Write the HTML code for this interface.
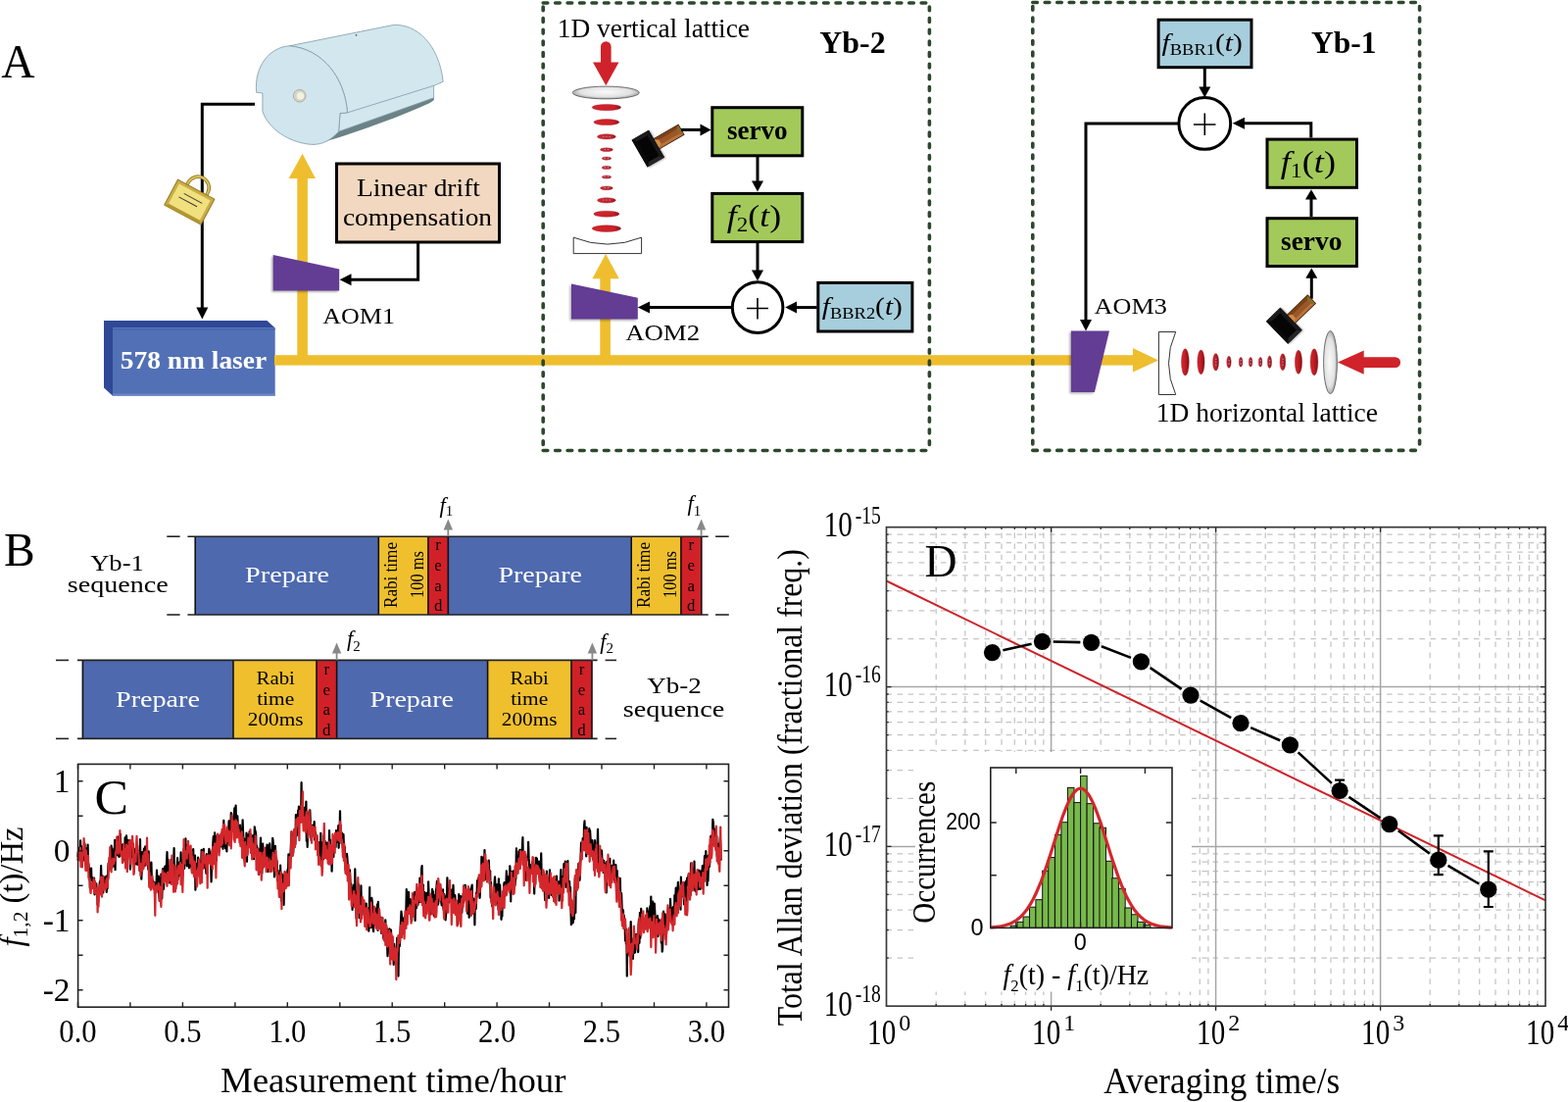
<!DOCTYPE html>
<html><head><meta charset="utf-8"><title>Figure</title>
<style>html,body{margin:0;padding:0;background:#fff;} svg{display:block;}</style></head>
<body><svg width="1600" height="1124" viewBox="0 0 1600 1124">
<defs>
<filter id="blur" x="-20%" y="-20%" width="140%" height="140%"><feGaussianBlur stdDeviation="1.0"/></filter>
<filter id="blurS" x="-30%" y="-30%" width="160%" height="160%"><feGaussianBlur stdDeviation="1"/></filter>
<radialGradient id="lensH" cx="0.5" cy="0.45" r="0.55"><stop offset="0" stop-color="#fafafa"/><stop offset="0.7" stop-color="#e2e2e2"/><stop offset="1" stop-color="#9a9a9a"/></radialGradient>
<radialGradient id="lensV" cx="0.45" cy="0.5" r="0.55"><stop offset="0" stop-color="#fafafa"/><stop offset="0.7" stop-color="#e2e2e2"/><stop offset="1" stop-color="#9a9a9a"/></radialGradient>
<linearGradient id="redE" x1="0" y1="0" x2="1" y2="0"><stop offset="0" stop-color="#d2242b"/><stop offset="0.75" stop-color="#cb2029"/><stop offset="1" stop-color="#861317"/></linearGradient>
<linearGradient id="redV" x1="0" y1="0" x2="1" y2="0"><stop offset="0" stop-color="#d62229"/><stop offset="0.45" stop-color="#c41d25"/><stop offset="1" stop-color="#7c1216"/></linearGradient>
</defs>
<rect width="1600" height="1124" fill="#fff"/>
<text x="1.3" y="79" font-family="'Liberation Serif','Times New Roman',serif" font-size="47.5" fill="#000">A</text>
<g stroke="#7f9aa3" stroke-width="0.8" stroke-linejoin="round">
<path d="M442.6,99.2 L345.6,133.8 L318,148 C350,140 395,124 432,108 C438,105.5 441,104 443,101.5 Z" fill="#6b8286" stroke="none"/>
<path d="M295.4,46.8 L401.3,25.5 C425,24 448,45 452.2,83.3 L442.6,87.4 L442.6,99.8 L345.6,134.2 L347,115.6 L354.5,114.9 C352,80 330,50 295.4,46.8 Z" fill="#d3e7ef"/>
<path d="M261.7,94.3 C259,68 275,48 295.4,46.8 C330,50 352,80 354.5,114.9 L347,115.6 L345.6,134.2 C335,146 325,148 316,147.2 C295,145 274,132 267.9,113.5 L267.9,95 Z" fill="#d0e5ee"/>
<path d="M354.5,114.9 L442.6,87.4" fill="none"/>
</g>
<circle cx="305.7" cy="97.7" r="6.3" fill="#d8d8c8" stroke="#a8a89a" stroke-width="0.9"/>
<circle cx="306.4" cy="97.9" r="4.3" fill="#f1f1e4" stroke="#c4c4b2" stroke-width="0.6"/>
<circle cx="363.5" cy="35.8" r="0.9" fill="#556"/>
<path d="M260,106.3 H206.3 V314" fill="none" stroke="#000" stroke-width="3"/>
<path d="M200.3,313.5 L212.3,313.5 L206.3,325.5 Z" fill="#000"/>
<g transform="translate(193.3,206.1) rotate(28)">
<path d="M-10.5,-13 L-10.5,-17 A11.3,11.3 0 0 1 12.1,-17 L12.1,-13" fill="none" stroke="#9c8224" stroke-width="3.6"/>
<path d="M-10.5,-13 L-10.5,-17 A11.3,11.3 0 0 1 12.1,-17 L12.1,-13" fill="none" stroke="#dcc666" stroke-width="1.6"/>
<rect x="-21.2" y="-14.7" width="42.4" height="29.4" fill="#c9ad45" stroke="#8a7320" stroke-width="0.9"/>
<rect x="-18" y="-11.5" width="36" height="23" fill="#f0e07e"/>
<path d="M-18,11.5 L18,11.5 L21.2,14.7 L-21.2,14.7 Z" fill="#b39630"/>
<line x1="-9" y1="-5" x2="12" y2="-5" stroke="#333" stroke-width="0.9"/>
<line x1="-12" y1="0.5" x2="9" y2="0.5" stroke="#333" stroke-width="0.9"/>
</g>
<path d="M106,327 L272.5,327 L280.7,334.5 L115,334.5 L115,403.7 L106,395.5 Z" fill="#2f4996"/>
<rect x="115" y="334.5" width="165.7" height="69.2" fill="#5270b5"/>
<rect x="115" y="334.5" width="165.7" height="2" fill="#4664ab"/>
<rect x="115" y="401.5" width="165.7" height="2.2" fill="#6a86c6"/>
<text x="197.5" y="375.8" font-family="'Liberation Serif','Times New Roman',serif" font-size="25.5" text-anchor="middle" font-weight="bold" textLength="149.3" lengthAdjust="spacingAndGlyphs" fill="#fff">578 nm laser</text>
<rect x="280" y="362.2" width="878" height="10.4" fill="#EEBE2E"/>
<path d="M1156,355 L1182,367.4 L1156,379.6 Z" fill="#EEBE2E"/>
<rect x="303.3" y="180" width="10.6" height="187" fill="#EEBE2E"/>
<path d="M294.7,182 L321.9,182 L308.6,156.8 Z" fill="#EEBE2E"/>
<rect x="612.3" y="282" width="10.6" height="85" fill="#EEBE2E"/>
<path d="M604.4,284.2 L631.8,284.2 L618.1,259 Z" fill="#EEBE2E"/>
<path d="M277.2,261.4 L344.7,276.1 L344.7,298 L277.2,298 Z" fill="#000" opacity="0.3" filter="url(#blur)"/>
<path d="M278.7,259.9 L346.2,274.6 L346.2,296.5 L278.7,296.5 Z" fill="#633C94"/>
<rect x="343.5" y="167" width="166" height="80" fill="#F2D8C0" stroke="#000" stroke-width="3"/>
<text x="427" y="199.9" font-family="'Liberation Serif','Times New Roman',serif" font-size="26" text-anchor="middle" textLength="125.9" lengthAdjust="spacingAndGlyphs" fill="#000">Linear drift</text>
<text x="426" y="230.3" font-family="'Liberation Serif','Times New Roman',serif" font-size="26" text-anchor="middle" textLength="152.1" lengthAdjust="spacingAndGlyphs" fill="#000">compensation</text>
<path d="M426.6,248 V285.2 H358" fill="none" stroke="#000" stroke-width="3"/>
<path d="M358.5,279.2 L358.5,291.2 L346.6,285.2 Z" fill="#000"/>
<text x="329.2" y="330" font-family="'Liberation Serif','Times New Roman',serif" font-size="23" textLength="73.7" lengthAdjust="spacingAndGlyphs" fill="#000">AOM1</text>
<path d="M554.2,3 H948.4 M554.2,459.5 H948.4" stroke="#2C482D" stroke-width="3.6" stroke-linecap="round" fill="none" stroke-dasharray="4.6 7.85"/>
<path d="M554.2,3 V459.5 M948.4,3 V459.5" stroke="#2C482D" stroke-width="3.6" stroke-linecap="round" fill="none" stroke-dasharray="3.8 7.85" stroke-dashoffset="-4"/>
<text x="568.8" y="37.8" font-family="'Liberation Serif','Times New Roman',serif" font-size="26.3" textLength="196.2" lengthAdjust="spacingAndGlyphs" fill="#000">1D vertical lattice</text>
<text x="836.3" y="53.9" font-family="'Liberation Serif','Times New Roman',serif" font-size="31" font-weight="bold" textLength="67.4" lengthAdjust="spacingAndGlyphs" fill="#000">Yb-2</text>
<path d="M613,63.5 L613,47.5 A5.3,5.3 0 0 1 623.6,47.5 L623.6,63.5 L631.5,63.5 L618.3,87.3 L605,63.5 Z" fill="#d0222a"/>
<ellipse cx="618.3" cy="94.5" rx="34" ry="6.4" fill="url(#lensH)" stroke="#555" stroke-width="0.8"/>
<ellipse cx="618.9" cy="109.6" rx="14.7" ry="3.2" fill="url(#redE)" stroke="#9a1a1e" stroke-width="0.4"/>
<ellipse cx="618.9" cy="124.6" rx="13" ry="3" fill="url(#redE)" stroke="#9a1a1e" stroke-width="0.4"/>
<ellipse cx="618.9" cy="139.4" rx="9.4" ry="2.6" fill="url(#redE)" stroke="#9a1a1e" stroke-width="0.4"/>
<circle cx="615.7" cy="139.20000000000002" r="0.75" fill="#6aa6d6"/>
<circle cx="618.9" cy="139.20000000000002" r="0.75" fill="#6aa6d6"/>
<circle cx="622.1" cy="139.20000000000002" r="0.75" fill="#6aa6d6"/>
<ellipse cx="618.9" cy="152.7" rx="6.4" ry="1.9" fill="url(#redE)" stroke="#9a1a1e" stroke-width="0.4"/>
<circle cx="617.3" cy="152.5" r="0.75" fill="#6aa6d6"/>
<circle cx="620.5" cy="152.5" r="0.75" fill="#6aa6d6"/>
<ellipse cx="618.9" cy="161.6" rx="4.7" ry="1.6" fill="url(#redE)" stroke="#9a1a1e" stroke-width="0.4"/>
<circle cx="617.3" cy="161.4" r="0.75" fill="#6aa6d6"/>
<circle cx="620.5" cy="161.4" r="0.75" fill="#6aa6d6"/>
<ellipse cx="618.9" cy="170.9" rx="4.7" ry="1.6" fill="url(#redE)" stroke="#9a1a1e" stroke-width="0.4"/>
<circle cx="617.3" cy="170.70000000000002" r="0.75" fill="#6aa6d6"/>
<circle cx="620.5" cy="170.70000000000002" r="0.75" fill="#6aa6d6"/>
<ellipse cx="618.9" cy="180.5" rx="4.7" ry="1.6" fill="url(#redE)" stroke="#9a1a1e" stroke-width="0.4"/>
<circle cx="617.3" cy="180.3" r="0.75" fill="#6aa6d6"/>
<circle cx="620.5" cy="180.3" r="0.75" fill="#6aa6d6"/>
<ellipse cx="618.9" cy="191.8" rx="6.4" ry="1.9" fill="url(#redE)" stroke="#9a1a1e" stroke-width="0.4"/>
<circle cx="617.3" cy="191.60000000000002" r="0.75" fill="#6aa6d6"/>
<circle cx="620.5" cy="191.60000000000002" r="0.75" fill="#6aa6d6"/>
<ellipse cx="618.9" cy="204.3" rx="9.4" ry="2.6" fill="url(#redE)" stroke="#9a1a1e" stroke-width="0.4"/>
<circle cx="615.7" cy="204.10000000000002" r="0.75" fill="#6aa6d6"/>
<circle cx="618.9" cy="204.10000000000002" r="0.75" fill="#6aa6d6"/>
<circle cx="622.1" cy="204.10000000000002" r="0.75" fill="#6aa6d6"/>
<ellipse cx="618.9" cy="218.2" rx="13" ry="3" fill="url(#redE)" stroke="#9a1a1e" stroke-width="0.4"/>
<ellipse cx="618.9" cy="233.1" rx="14.7" ry="3.3" fill="url(#redE)" stroke="#9a1a1e" stroke-width="0.4"/>
<path d="M585.2,242.2 Q619.9,256 654.6,242.2 L654.6,258.6 L585.2,258.6 Z" fill="#fff" stroke="#333" stroke-width="1"/>
<path d="M581.5,290.9 L649.3,305.2 L649.3,327 L581.5,327 Z" fill="#000" opacity="0.3" filter="url(#blur)"/>
<path d="M583,289.4 L650.8,303.7 L650.8,325.5 L583,325.5 Z" fill="#633C94"/>
<text x="638.2" y="346.8" font-family="'Liberation Serif','Times New Roman',serif" font-size="23" textLength="75.9" lengthAdjust="spacingAndGlyphs" fill="#000">AOM2</text>
<g transform="translate(661.3,151.7) rotate(-30)">
<rect x="-9" y="-15" width="20" height="32" fill="#000" opacity="0.35" filter="url(#blurS)"/>
<rect x="8" y="-6.3" width="31.5" height="12.6" fill="#3a1e08"/>
<rect x="9" y="-5.4" width="29.6" height="10.8" fill="#9b5727"/>
<path d="M9,-5.4 L38.6,-5.4 L35,-2.4 L14,-2.4 Z" fill="#7c4218"/>
<path d="M9,-5.4 L14,-2.4 L14,2.6 L9,5.4 Z" fill="#d48a42"/>
<path d="M9,5.4 L14,2.6 L35,2.6 L38.6,5.4 Z" fill="#b8733a"/>
<path d="M38.6,-5.4 L35,-2.4 L35,2.6 L38.6,5.4 Z" fill="#8a6a2a"/>
<rect x="-10" y="-16" width="20" height="32" fill="#050505"/>
<path d="M-10,-16 L10,-16 L6,-12 L-6,-12 Z" fill="#1c1c1c"/>
<path d="M-10,16 L10,16 L6,12 L-6,12 Z" fill="#262626"/>
<path d="M10,-16 L10,16 L6,12 L6,-12 Z" fill="#181818"/>
<path d="M-10,-16 L-10,16 L-6,12 L-6,-12 Z" fill="#0a0a0a"/>
</g>
<path d="M695,132.4 H716" fill="none" stroke="#000" stroke-width="3"/>
<path d="M714.5,126.4 L714.5,138.4 L725.6,132.4 Z" fill="#000"/>
<rect x="726.8" y="109.7" width="92" height="49.1" fill="#A3C95B" stroke="#000" stroke-width="3"/>
<text x="772.8" y="142.2" font-family="'Liberation Serif','Times New Roman',serif" font-size="27" text-anchor="middle" font-weight="bold" textLength="61.7" lengthAdjust="spacingAndGlyphs" fill="#000">servo</text>
<rect x="726.8" y="197.4" width="92" height="49.2" fill="#A3C95B" stroke="#000" stroke-width="3"/>
<text x="741.8" y="231.2" font-family="'Liberation Serif','Times New Roman',serif" font-size="31" fill="#000" textLength="55.3" lengthAdjust="spacingAndGlyphs"><tspan font-style="italic">f</tspan><tspan font-size="20" dy="4.5">2</tspan><tspan dy="-4.5">(</tspan><tspan font-style="italic">t</tspan><tspan>)</tspan></text>
<path d="M773,160 V185" stroke="#000" stroke-width="3"/>
<path d="M767,184.6 L779,184.6 L773,195.6 Z" fill="#000"/>
<path d="M773,248 V276" stroke="#000" stroke-width="3"/>
<path d="M767,275.6 L779,275.6 L773,286.6 Z" fill="#000"/>
<circle cx="773.1" cy="313.6" r="25.8" fill="#fff" stroke="#000" stroke-width="3"/>
<path d="M762,314.5 H784 M773,304 V325.5" stroke="#000" stroke-width="1.6"/>
<path d="M747.3,313.4 H662" stroke="#000" stroke-width="3"/>
<path d="M663,307.4 L663,319.4 L650.8,313.4 Z" fill="#000"/>
<rect x="834.8" y="288.4" width="96.1" height="49.6" fill="#A7CEDC" stroke="#000" stroke-width="3"/>
<text x="838.8" y="320.7" font-family="'Liberation Serif','Times New Roman',serif" font-size="25.5" fill="#000" textLength="82.1" lengthAdjust="spacingAndGlyphs"><tspan font-style="italic">f</tspan><tspan font-size="16" dy="4.2">BBR2</tspan><tspan dy="-4.2">(</tspan><tspan font-style="italic">t</tspan><tspan>)</tspan></text>
<path d="M833.6,313.6 H812" stroke="#000" stroke-width="3"/>
<path d="M813,307.6 L813,319.6 L801.2,313.6 Z" fill="#000"/>
<path d="M1053.8,2.5 H1448.6 M1053.8,459.4 H1448.6" stroke="#2C482D" stroke-width="3.6" stroke-linecap="round" fill="none" stroke-dasharray="4.6 7.85"/>
<path d="M1053.8,2.5 V459.4 M1448.6,2.5 V459.4" stroke="#2C482D" stroke-width="3.6" stroke-linecap="round" fill="none" stroke-dasharray="3.8 7.85" stroke-dashoffset="-4"/>
<rect x="1182.1" y="20.2" width="94.9" height="48.5" fill="#A7CEDC" stroke="#000" stroke-width="3"/>
<text x="1185.5" y="51.6" font-family="'Liberation Serif','Times New Roman',serif" font-size="25.5" fill="#000" textLength="82.4" lengthAdjust="spacingAndGlyphs"><tspan font-style="italic">f</tspan><tspan font-size="16" dy="4.1">BBR1</tspan><tspan dy="-4.1">(</tspan><tspan font-style="italic">t</tspan><tspan>)</tspan></text>
<text x="1338.1" y="53.7" font-family="'Liberation Serif','Times New Roman',serif" font-size="31" font-weight="bold" textLength="66.5" lengthAdjust="spacingAndGlyphs" fill="#000">Yb-1</text>
<path d="M1229.3,70 V89" stroke="#000" stroke-width="3"/>
<path d="M1223.3,88.5 L1235.3,88.5 L1229.3,99.5 Z" fill="#000"/>
<circle cx="1229.3" cy="125.9" r="26.4" fill="#fff" stroke="#000" stroke-width="3"/>
<path d="M1218,127 H1240.5 M1229.3,115.5 V138" stroke="#000" stroke-width="1.6"/>
<path d="M1202.9,125.9 H1108 V326" fill="none" stroke="#000" stroke-width="3"/>
<path d="M1102,326 L1114,326 L1108,337.4 Z" fill="#000"/>
<path d="M1337.8,140.6 V125.8 H1269" fill="none" stroke="#000" stroke-width="3"/>
<path d="M1270,119.8 L1270,131.8 L1257.7,125.8 Z" fill="#000"/>
<rect x="1293" y="142.1" width="91.5" height="49.2" fill="#A3C95B" stroke="#000" stroke-width="3"/>
<text x="1306.8" y="176.1" font-family="'Liberation Serif','Times New Roman',serif" font-size="31" fill="#000" textLength="56.2" lengthAdjust="spacingAndGlyphs"><tspan font-style="italic">f</tspan><tspan font-size="20.5" dy="4.8">1</tspan><tspan dy="-4.8">(</tspan><tspan font-style="italic">t</tspan><tspan>)</tspan></text>
<rect x="1293" y="222.7" width="91.5" height="48.8" fill="#A3C95B" stroke="#000" stroke-width="3"/>
<text x="1338.2" y="254.8" font-family="'Liberation Serif','Times New Roman',serif" font-size="27" text-anchor="middle" font-weight="bold" textLength="62.3" lengthAdjust="spacingAndGlyphs" fill="#000">servo</text>
<path d="M1338,221 V203" stroke="#000" stroke-width="3"/>
<path d="M1332,203.6 L1344,203.6 L1338,193.2 Z" fill="#000"/>
<path d="M1338.3,304.7 V283" stroke="#000" stroke-width="3"/>
<path d="M1332.3,283.8 L1344.3,283.8 L1338.3,273.4 Z" fill="#000"/>
<g transform="translate(1310.3,332.3) rotate(-44)">
<rect x="-9" y="-15" width="20" height="32" fill="#000" opacity="0.35" filter="url(#blurS)"/>
<rect x="8" y="-6.3" width="31.5" height="12.6" fill="#3a1e08"/>
<rect x="9" y="-5.4" width="29.6" height="10.8" fill="#9b5727"/>
<path d="M9,-5.4 L38.6,-5.4 L35,-2.4 L14,-2.4 Z" fill="#7c4218"/>
<path d="M9,-5.4 L14,-2.4 L14,2.6 L9,5.4 Z" fill="#d48a42"/>
<path d="M9,5.4 L14,2.6 L35,2.6 L38.6,5.4 Z" fill="#b8733a"/>
<path d="M38.6,-5.4 L35,-2.4 L35,2.6 L38.6,5.4 Z" fill="#8a6a2a"/>
<rect x="-10" y="-16" width="20" height="32" fill="#050505"/>
<path d="M-10,-16 L10,-16 L6,-12 L-6,-12 Z" fill="#1c1c1c"/>
<path d="M-10,16 L10,16 L6,12 L-6,12 Z" fill="#262626"/>
<path d="M10,-16 L10,16 L6,12 L6,-12 Z" fill="#181818"/>
<path d="M-10,-16 L-10,16 L-6,12 L-6,-12 Z" fill="#0a0a0a"/>
</g>
<path d="M1091.4,339.1 L1130.5,339.1 L1115.4,401.4 L1091.4,401.4 Z" fill="#000" opacity="0.3" filter="url(#blur)"/>
<path d="M1092.9,337.6 L1132,337.6 L1116.9,399.9 L1092.9,399.9 Z" fill="#633C94"/>
<text x="1116.6" y="319.5" font-family="'Liberation Serif','Times New Roman',serif" font-size="24" textLength="74.2" lengthAdjust="spacingAndGlyphs" fill="#000">AOM3</text>
<path d="M1182.4,338.5 L1199.7,338.5 Q1185.3,370.5 1199.7,402.5 L1182.4,402.5 Z" fill="#fff" stroke="#333" stroke-width="1"/>
<ellipse cx="1209.4" cy="369.3" rx="3.9" ry="13.6" fill="url(#redV)" stroke="#9a1a1e" stroke-width="0.4"/>
<ellipse cx="1225.5" cy="369.3" rx="3.6" ry="12.4" fill="url(#redV)" stroke="#9a1a1e" stroke-width="0.4"/>
<ellipse cx="1240.6" cy="369.3" rx="3.0" ry="8.75" fill="url(#redV)" stroke="#9a1a1e" stroke-width="0.4"/>
<circle cx="1240.8" cy="366.3" r="0.75" fill="#6aa6d6"/>
<circle cx="1240.8" cy="369.3" r="0.75" fill="#6aa6d6"/>
<circle cx="1240.8" cy="372.3" r="0.75" fill="#6aa6d6"/>
<ellipse cx="1254" cy="369.3" rx="2.2" ry="6.1" fill="url(#redV)" stroke="#9a1a1e" stroke-width="0.4"/>
<circle cx="1254.2" cy="367.7" r="0.75" fill="#6aa6d6"/>
<circle cx="1254.2" cy="370.9" r="0.75" fill="#6aa6d6"/>
<ellipse cx="1266.1" cy="369.3" rx="1.8" ry="4.9" fill="url(#redV)" stroke="#9a1a1e" stroke-width="0.4"/>
<circle cx="1266.3" cy="367.7" r="0.75" fill="#6aa6d6"/>
<circle cx="1266.3" cy="370.9" r="0.75" fill="#6aa6d6"/>
<ellipse cx="1276.1" cy="369.3" rx="1.8" ry="4.8" fill="url(#redV)" stroke="#9a1a1e" stroke-width="0.4"/>
<circle cx="1276.3" cy="367.7" r="0.75" fill="#6aa6d6"/>
<circle cx="1276.3" cy="370.9" r="0.75" fill="#6aa6d6"/>
<ellipse cx="1286.1" cy="369.3" rx="1.8" ry="4.9" fill="url(#redV)" stroke="#9a1a1e" stroke-width="0.4"/>
<circle cx="1286.3" cy="367.7" r="0.75" fill="#6aa6d6"/>
<circle cx="1286.3" cy="370.9" r="0.75" fill="#6aa6d6"/>
<ellipse cx="1295.5" cy="369.3" rx="2.1" ry="6.2" fill="url(#redV)" stroke="#9a1a1e" stroke-width="0.4"/>
<circle cx="1295.7" cy="367.7" r="0.75" fill="#6aa6d6"/>
<circle cx="1295.7" cy="370.9" r="0.75" fill="#6aa6d6"/>
<ellipse cx="1308.9" cy="369.3" rx="2.9" ry="8.5" fill="url(#redV)" stroke="#9a1a1e" stroke-width="0.4"/>
<circle cx="1309.1000000000001" cy="366.3" r="0.75" fill="#6aa6d6"/>
<circle cx="1309.1000000000001" cy="369.3" r="0.75" fill="#6aa6d6"/>
<circle cx="1309.1000000000001" cy="372.3" r="0.75" fill="#6aa6d6"/>
<ellipse cx="1325" cy="369.3" rx="3.6" ry="12.1" fill="url(#redV)" stroke="#9a1a1e" stroke-width="0.4"/>
<ellipse cx="1341" cy="369.3" rx="3.9" ry="13.5" fill="url(#redV)" stroke="#9a1a1e" stroke-width="0.4"/>
<ellipse cx="1357.5" cy="369.6" rx="6.9" ry="32" fill="url(#lensV)" stroke="#555" stroke-width="0.8"/>
<path d="M1365,369.6 L1391.7,357.5 L1391.7,364.3 L1423.7,364.3 A5.35,5.35 0 0 1 1423.7,375 L1391.7,375 L1391.7,381.7 Z" fill="#d0222a"/>
<text x="1179.8" y="430.3" font-family="'Liberation Serif','Times New Roman',serif" font-size="26.3" textLength="226.2" lengthAdjust="spacingAndGlyphs" fill="#000">1D horizontal lattice</text>
<text x="4" y="576.9" font-family="'Liberation Serif','Times New Roman',serif" font-size="47.5" fill="#000">B</text>
<text x="119.5" y="581.6" font-family="'Liberation Serif','Times New Roman',serif" font-size="24" text-anchor="middle" textLength="54.7" lengthAdjust="spacingAndGlyphs" fill="#000">Yb-1</text>
<text x="120.3" y="604.4" font-family="'Liberation Serif','Times New Roman',serif" font-size="24" text-anchor="middle" textLength="103.1" lengthAdjust="spacingAndGlyphs" fill="#000">sequence</text>
<rect x="199.2" y="547.2" width="187.10000000000002" height="79.79999999999995" fill="#4E69AE"/>
<rect x="386.3" y="547.2" width="50.599999999999966" height="79.79999999999995" fill="#EFBF2E"/>
<rect x="436.9" y="547.2" width="20.400000000000034" height="79.79999999999995" fill="#D12128"/>
<rect x="457.3" y="547.2" width="186.90000000000003" height="79.79999999999995" fill="#4E69AE"/>
<rect x="644.2" y="547.2" width="50.69999999999993" height="79.79999999999995" fill="#EFBF2E"/>
<rect x="694.9" y="547.2" width="20.899999999999977" height="79.79999999999995" fill="#D12128"/>
<line x1="199.2" y1="547.2" x2="199.2" y2="627.0" stroke="#111" stroke-width="1.6"/>
<line x1="386.3" y1="547.2" x2="386.3" y2="627.0" stroke="#111" stroke-width="1.6"/>
<line x1="436.9" y1="547.2" x2="436.9" y2="627.0" stroke="#111" stroke-width="1.6"/>
<line x1="457.3" y1="547.2" x2="457.3" y2="627.0" stroke="#111" stroke-width="1.6"/>
<line x1="644.2" y1="547.2" x2="644.2" y2="627.0" stroke="#111" stroke-width="1.6"/>
<line x1="694.9" y1="547.2" x2="694.9" y2="627.0" stroke="#111" stroke-width="1.6"/>
<line x1="715.8" y1="547.2" x2="715.8" y2="627.0" stroke="#111" stroke-width="1.6"/>
<line x1="170.3" y1="547.2" x2="183.6" y2="547.2" stroke="#222" stroke-width="1.6"/>
<line x1="191.4" y1="547.2" x2="722.7" y2="547.2" stroke="#222" stroke-width="1.6"/>
<line x1="730.1" y1="547.2" x2="743.8" y2="547.2" stroke="#222" stroke-width="1.6"/>
<line x1="170.3" y1="627.0" x2="183.6" y2="627.0" stroke="#222" stroke-width="1.6"/>
<line x1="191.4" y1="627.0" x2="722.7" y2="627.0" stroke="#222" stroke-width="1.6"/>
<line x1="730.1" y1="627.0" x2="743.8" y2="627.0" stroke="#222" stroke-width="1.6"/>
<text x="293.1" y="594.0" font-family="'Liberation Serif','Times New Roman',serif" font-size="23" text-anchor="middle" textLength="86" lengthAdjust="spacingAndGlyphs" fill="#fff">Prepare</text>
<text x="551.2" y="594.2" font-family="'Liberation Serif','Times New Roman',serif" font-size="23" text-anchor="middle" textLength="85.5" lengthAdjust="spacingAndGlyphs" fill="#fff">Prepare</text>
<text transform="translate(405.3,586.5) rotate(-90)" font-family="'Liberation Serif','Times New Roman',serif" font-size="19" text-anchor="middle" textLength="67" lengthAdjust="spacingAndGlyphs">Rabi time</text>
<text transform="translate(431.6,586) rotate(-90)" font-family="'Liberation Serif','Times New Roman',serif" font-size="19" text-anchor="middle" textLength="48" lengthAdjust="spacingAndGlyphs">100 ms</text>
<text transform="translate(663.2,586.5) rotate(-90)" font-family="'Liberation Serif','Times New Roman',serif" font-size="19" text-anchor="middle" textLength="67" lengthAdjust="spacingAndGlyphs">Rabi time</text>
<text transform="translate(689.5,586) rotate(-90)" font-family="'Liberation Serif','Times New Roman',serif" font-size="19" text-anchor="middle" textLength="48" lengthAdjust="spacingAndGlyphs">100 ms</text>
<text x="447.1" y="560.8" font-family="'Liberation Serif','Times New Roman',serif" font-size="16.8" text-anchor="middle" fill="#000">r</text>
<text x="447.1" y="581.7" font-family="'Liberation Serif','Times New Roman',serif" font-size="16.8" text-anchor="middle" fill="#000">e</text>
<text x="447.1" y="602.8" font-family="'Liberation Serif','Times New Roman',serif" font-size="16.8" text-anchor="middle" fill="#000">a</text>
<text x="447.1" y="622.7" font-family="'Liberation Serif','Times New Roman',serif" font-size="16.8" text-anchor="middle" fill="#000">d</text>
<text x="705.3" y="560.8" font-family="'Liberation Serif','Times New Roman',serif" font-size="16.8" text-anchor="middle" fill="#000">r</text>
<text x="705.3" y="581.7" font-family="'Liberation Serif','Times New Roman',serif" font-size="16.8" text-anchor="middle" fill="#000">e</text>
<text x="705.3" y="602.8" font-family="'Liberation Serif','Times New Roman',serif" font-size="16.8" text-anchor="middle" fill="#000">a</text>
<text x="705.3" y="622.7" font-family="'Liberation Serif','Times New Roman',serif" font-size="16.8" text-anchor="middle" fill="#000">d</text>
<line x1="457.3" y1="547" x2="457.3" y2="537.4" stroke="#888" stroke-width="1.8"/>
<path d="M452.6,540.4 L462.0,540.4 L457.3,529.4 Z" fill="#888"/>
<line x1="715.6" y1="547" x2="715.6" y2="537.4" stroke="#888" stroke-width="1.8"/>
<path d="M710.9,540.4 L720.3000000000001,540.4 L715.6,529.4 Z" fill="#888"/>
<text x="448.4" y="522.5" font-family="'Liberation Serif','Times New Roman',serif" font-size="22.4" fill="#000"><tspan font-style="italic">f</tspan><tspan font-size="15" dy="3.1">1</tspan></text>
<text x="701.5" y="521.4" font-family="'Liberation Serif','Times New Roman',serif" font-size="22.4" fill="#000"><tspan font-style="italic">f</tspan><tspan font-size="15" dy="4.1">1</tspan></text>
<rect x="84.4" y="673.4" width="153.6" height="80.0" fill="#4E69AE"/>
<rect x="238" y="673.4" width="85" height="80.0" fill="#EFBF2E"/>
<rect x="323" y="673.4" width="20.600000000000023" height="80.0" fill="#D12128"/>
<rect x="343.6" y="673.4" width="154.0" height="80.0" fill="#4E69AE"/>
<rect x="497.6" y="673.4" width="85.39999999999998" height="80.0" fill="#EFBF2E"/>
<rect x="583" y="673.4" width="21" height="80.0" fill="#D12128"/>
<line x1="84.4" y1="673.4" x2="84.4" y2="753.4" stroke="#111" stroke-width="1.6"/>
<line x1="238" y1="673.4" x2="238" y2="753.4" stroke="#111" stroke-width="1.6"/>
<line x1="323" y1="673.4" x2="323" y2="753.4" stroke="#111" stroke-width="1.6"/>
<line x1="343.6" y1="673.4" x2="343.6" y2="753.4" stroke="#111" stroke-width="1.6"/>
<line x1="497.6" y1="673.4" x2="497.6" y2="753.4" stroke="#111" stroke-width="1.6"/>
<line x1="583" y1="673.4" x2="583" y2="753.4" stroke="#111" stroke-width="1.6"/>
<line x1="604" y1="673.4" x2="604" y2="753.4" stroke="#111" stroke-width="1.6"/>
<line x1="57" y1="673.4" x2="70" y2="673.4" stroke="#222" stroke-width="1.6"/>
<line x1="79" y1="673.4" x2="609.6" y2="673.4" stroke="#222" stroke-width="1.6"/>
<line x1="617.6" y1="673.4" x2="629" y2="673.4" stroke="#222" stroke-width="1.6"/>
<line x1="57" y1="753.4" x2="70" y2="753.4" stroke="#222" stroke-width="1.6"/>
<line x1="79" y1="753.4" x2="609.6" y2="753.4" stroke="#222" stroke-width="1.6"/>
<line x1="617.6" y1="753.4" x2="629" y2="753.4" stroke="#222" stroke-width="1.6"/>
<text x="161" y="720.6" font-family="'Liberation Serif','Times New Roman',serif" font-size="23" text-anchor="middle" textLength="86" lengthAdjust="spacingAndGlyphs" fill="#fff">Prepare</text>
<text x="420.3" y="721" font-family="'Liberation Serif','Times New Roman',serif" font-size="23" text-anchor="middle" textLength="85.4" lengthAdjust="spacingAndGlyphs" fill="#fff">Prepare</text>
<text x="281.2" y="698" font-family="'Liberation Serif','Times New Roman',serif" font-size="18" text-anchor="middle" textLength="39.4" lengthAdjust="spacingAndGlyphs" fill="#000">Rabi</text>
<text x="281.2" y="718.8" font-family="'Liberation Serif','Times New Roman',serif" font-size="18" text-anchor="middle" textLength="38" lengthAdjust="spacingAndGlyphs" fill="#000">time</text>
<text x="281.2" y="739.8" font-family="'Liberation Serif','Times New Roman',serif" font-size="18" text-anchor="middle" textLength="56.7" lengthAdjust="spacingAndGlyphs" fill="#000">200ms</text>
<text x="540.2" y="698" font-family="'Liberation Serif','Times New Roman',serif" font-size="18" text-anchor="middle" textLength="39.4" lengthAdjust="spacingAndGlyphs" fill="#000">Rabi</text>
<text x="540.2" y="718.8" font-family="'Liberation Serif','Times New Roman',serif" font-size="18" text-anchor="middle" textLength="38" lengthAdjust="spacingAndGlyphs" fill="#000">time</text>
<text x="540.2" y="739.8" font-family="'Liberation Serif','Times New Roman',serif" font-size="18" text-anchor="middle" textLength="56.7" lengthAdjust="spacingAndGlyphs" fill="#000">200ms</text>
<text x="333.2" y="687.5" font-family="'Liberation Serif','Times New Roman',serif" font-size="16.8" text-anchor="middle" fill="#000">r</text>
<text x="333.2" y="708.6" font-family="'Liberation Serif','Times New Roman',serif" font-size="16.8" text-anchor="middle" fill="#000">e</text>
<text x="333.2" y="729.3" font-family="'Liberation Serif','Times New Roman',serif" font-size="16.8" text-anchor="middle" fill="#000">a</text>
<text x="333.2" y="750" font-family="'Liberation Serif','Times New Roman',serif" font-size="16.8" text-anchor="middle" fill="#000">d</text>
<text x="593.5" y="687.5" font-family="'Liberation Serif','Times New Roman',serif" font-size="16.8" text-anchor="middle" fill="#000">r</text>
<text x="593.5" y="708.6" font-family="'Liberation Serif','Times New Roman',serif" font-size="16.8" text-anchor="middle" fill="#000">e</text>
<text x="593.5" y="729.3" font-family="'Liberation Serif','Times New Roman',serif" font-size="16.8" text-anchor="middle" fill="#000">a</text>
<text x="593.5" y="750" font-family="'Liberation Serif','Times New Roman',serif" font-size="16.8" text-anchor="middle" fill="#000">d</text>
<line x1="343.6" y1="673.4" x2="343.6" y2="663.6" stroke="#888" stroke-width="1.8"/>
<path d="M338.90000000000003,666.6 L348.3,666.6 L343.6,655.6 Z" fill="#888"/>
<line x1="604.4" y1="673.4" x2="604.4" y2="663.6" stroke="#888" stroke-width="1.8"/>
<path d="M599.6999999999999,666.6 L609.1,666.6 L604.4,655.6 Z" fill="#888"/>
<text x="354" y="658.8" font-family="'Liberation Serif','Times New Roman',serif" font-size="22.4" fill="#000"><tspan font-style="italic">f</tspan><tspan font-size="15" dy="5.2">2</tspan></text>
<text x="612.3" y="662.2" font-family="'Liberation Serif','Times New Roman',serif" font-size="22.4" fill="#000"><tspan font-style="italic">f</tspan><tspan font-size="15" dy="3.4">2</tspan></text>
<text x="688" y="707.4" font-family="'Liberation Serif','Times New Roman',serif" font-size="24" text-anchor="middle" textLength="55.5" lengthAdjust="spacingAndGlyphs" fill="#000">Yb-2</text>
<text x="687.5" y="731" font-family="'Liberation Serif','Times New Roman',serif" font-size="24" text-anchor="middle" textLength="103.5" lengthAdjust="spacingAndGlyphs" fill="#000">sequence</text>
<polyline points="79.5,874.2 79.9,868.8 80.4,866.0 80.8,864.9 81.3,871.9 81.7,873.1 82.1,857.4 82.6,871.2 83.0,863.1 83.4,874.4 83.9,873.6 84.3,874.3 84.8,875.4 85.2,870.6 85.6,877.4 86.1,875.9 86.5,860.7 86.9,872.8 87.4,864.8 87.8,870.2 88.3,869.9 88.7,887.0 89.1,880.6 89.6,861.5 90.0,880.2 90.4,881.4 90.9,888.1 91.3,886.0 91.8,906.0 92.2,903.5 92.6,889.1 93.1,885.5 93.5,897.7 93.9,895.6 94.4,895.2 94.8,895.8 95.3,903.4 95.7,904.3 96.1,895.7 96.6,912.5 97.0,907.4 97.4,904.8 97.9,905.9 98.3,901.3 98.8,909.0 99.2,909.7 99.6,922.7 100.1,920.3 100.5,906.8 100.9,907.8 101.4,908.9 101.8,899.6 102.3,898.5 102.7,897.7 103.1,883.1 103.6,903.3 104.0,895.7 104.5,893.3 104.9,904.1 105.3,910.4 105.8,895.7 106.2,894.6 106.6,897.5 107.1,897.3 107.5,895.7 108.0,905.5 108.4,893.6 108.8,909.9 109.3,894.4 109.7,905.9 110.1,892.8 110.6,880.5 111.0,887.7 111.5,887.7 111.9,875.4 112.3,875.9 112.8,883.2 113.2,880.1 113.6,862.7 114.1,868.4 114.5,873.1 115.0,882.4 115.4,872.0 115.8,883.6 116.3,865.3 116.7,881.9 117.1,856.8 117.6,887.2 118.0,862.6 118.5,857.4 118.9,872.2 119.3,867.6 119.8,854.5 120.2,853.5 120.6,872.7 121.1,865.6 121.5,874.0 122.0,873.0 122.4,870.6 122.8,850.7 123.3,865.6 123.7,868.6 124.1,869.2 124.6,861.7 125.0,861.7 125.5,879.1 125.9,861.3 126.3,876.4 126.8,872.4 127.2,870.2 127.6,854.3 128.1,869.0 128.5,859.6 129.0,852.3 129.4,859.9 129.8,861.4 130.3,857.6 130.7,857.2 131.2,859.3 131.6,859.9 132.0,866.4 132.5,856.9 132.9,886.7 133.3,881.8 133.8,860.6 134.2,863.9 134.7,874.1 135.1,864.4 135.5,860.0 136.0,872.8 136.4,870.1 136.8,880.3 137.3,877.1 137.7,877.9 138.2,865.5 138.6,881.3 139.0,872.9 139.5,862.3 139.9,875.4 140.3,881.9 140.8,867.9 141.2,873.8 141.7,877.1 142.1,878.1 142.5,888.2 143.0,856.1 143.4,884.2 143.8,883.2 144.3,896.7 144.7,887.9 145.2,869.1 145.6,876.0 146.0,870.7 146.5,881.8 146.9,865.7 147.3,871.3 147.8,883.1 148.2,863.3 148.7,867.1 149.1,865.3 149.5,869.4 150.0,869.2 150.4,870.4 150.8,879.5 151.3,886.6 151.7,868.4 152.2,882.9 152.6,882.0 153.0,891.6 153.5,905.8 153.9,903.5 154.4,879.6 154.8,894.5 155.2,893.6 155.7,903.5 156.1,898.3 156.5,899.6 157.0,900.2 157.4,901.8 157.9,906.3 158.3,906.8 158.7,900.1 159.2,900.8 159.6,900.9 160.0,887.5 160.5,900.3 160.9,901.4 161.4,909.0 161.8,893.5 162.2,910.1 162.7,918.8 163.1,915.0 163.5,895.4 164.0,907.9 164.4,891.6 164.9,899.4 165.3,916.4 165.7,899.7 166.2,886.0 166.6,903.5 167.0,906.8 167.5,896.1 167.9,885.8 168.4,883.6 168.8,893.4 169.2,889.6 169.7,885.5 170.1,878.4 170.5,869.1 171.0,888.0 171.4,876.5 171.9,892.7 172.3,883.7 172.7,897.6 173.2,900.5 173.6,888.7 174.0,893.2 174.5,876.9 174.9,890.1 175.4,884.2 175.8,887.2 176.2,890.0 176.7,886.1 177.1,884.8 177.6,865.0 178.0,901.2 178.4,892.6 178.9,898.1 179.3,906.7 179.7,897.1 180.2,900.3 180.6,887.4 181.1,875.1 181.5,897.3 181.9,881.7 182.4,883.8 182.8,893.3 183.2,879.5 183.7,880.3 184.1,884.3 184.6,869.4 185.0,891.6 185.4,880.8 185.9,885.6 186.3,892.2 186.7,885.1 187.2,881.4 187.6,865.9 188.1,885.9 188.5,874.7 188.9,873.4 189.4,855.4 189.8,874.8 190.2,862.0 190.7,883.3 191.1,863.7 191.6,866.5 192.0,867.0 192.4,875.8 192.9,885.3 193.3,884.3 193.7,864.1 194.2,867.8 194.6,883.5 195.1,869.3 195.5,883.1 195.9,888.9 196.4,889.6 196.8,870.0 197.2,866.1 197.7,888.2 198.1,882.0 198.6,881.5 199.0,872.6 199.4,907.7 199.9,887.7 200.3,881.3 200.8,897.9 201.2,881.9 201.6,882.7 202.1,874.5 202.5,884.9 202.9,877.0 203.4,883.5 203.8,877.9 204.3,882.5 204.7,882.0 205.1,890.4 205.6,866.9 206.0,867.9 206.4,871.6 206.9,883.7 207.3,884.3 207.8,865.9 208.2,876.3 208.6,885.0 209.1,880.1 209.5,882.8 209.9,884.6 210.4,890.8 210.8,871.2 211.3,877.3 211.7,881.3 212.1,881.4 212.6,879.3 213.0,872.7 213.4,865.9 213.9,874.7 214.3,868.6 214.8,877.7 215.2,882.6 215.6,899.5 216.1,881.7 216.5,885.3 216.9,873.2 217.4,858.9 217.8,853.1 218.3,867.2 218.7,877.7 219.1,849.3 219.6,860.6 220.0,866.6 220.4,869.6 220.9,877.7 221.3,853.7 221.8,851.8 222.2,851.6 222.6,854.7 223.1,858.9 223.5,852.8 223.9,865.2 224.4,861.2 224.8,855.7 225.3,863.5 225.7,855.7 226.1,857.3 226.6,848.5 227.0,850.0 227.5,865.8 227.9,853.2 228.3,836.8 228.8,863.2 229.2,857.8 229.6,853.5 230.1,865.5 230.5,861.4 231.0,863.1 231.4,868.4 231.8,852.7 232.3,850.0 232.7,859.6 233.1,848.5 233.6,837.4 234.0,854.2 234.5,848.9 234.9,843.3 235.3,844.3 235.8,829.1 236.2,829.6 236.6,846.3 237.1,841.6 237.5,834.5 238.0,833.6 238.4,842.0 238.8,834.0 239.3,824.4 239.7,837.2 240.1,827.4 240.6,821.6 241.0,837.8 241.5,833.0 241.9,842.4 242.3,832.3 242.8,842.6 243.2,846.6 243.6,843.2 244.1,847.0 244.5,846.7 245.0,841.6 245.4,857.8 245.8,854.0 246.3,846.6 246.7,849.0 247.1,856.3 247.6,836.4 248.0,847.6 248.5,858.5 248.9,858.6 249.3,855.6 249.8,862.7 250.2,875.7 250.7,869.5 251.1,866.1 251.5,849.5 252.0,878.8 252.4,854.6 252.8,864.5 253.3,851.5 253.7,860.5 254.2,856.9 254.6,848.2 255.0,859.2 255.5,850.4 255.9,860.2 256.3,866.9 256.8,866.0 257.2,869.1 257.7,864.0 258.1,852.1 258.5,874.1 259.0,876.1 259.4,861.1 259.8,843.3 260.3,847.4 260.7,847.9 261.2,851.3 261.6,869.9 262.0,862.6 262.5,886.3 262.9,877.1 263.3,865.7 263.8,887.1 264.2,891.9 264.7,889.4 265.1,879.0 265.5,868.0 266.0,854.5 266.4,867.1 266.8,888.9 267.3,890.9 267.7,876.0 268.2,860.5 268.6,884.7 269.0,879.3 269.5,878.4 269.9,878.3 270.3,874.7 270.8,867.5 271.2,864.9 271.7,873.3 272.1,872.6 272.5,861.5 273.0,881.7 273.4,889.2 273.9,876.4 274.3,862.2 274.7,870.9 275.2,860.3 275.6,873.5 276.0,866.9 276.5,877.4 276.9,868.9 277.4,871.1 277.8,867.7 278.2,854.9 278.7,858.7 279.1,876.1 279.5,865.7 280.0,894.4 280.4,875.2 280.9,862.8 281.3,873.2 281.7,875.2 282.2,881.2 282.6,878.1 283.0,897.9 283.5,887.8 283.9,891.1 284.4,897.4 284.8,892.6 285.2,893.5 285.7,914.6 286.1,882.5 286.5,893.4 287.0,918.9 287.4,891.2 287.9,895.5 288.3,898.7 288.7,892.8 289.2,901.4 289.6,922.9 290.0,896.5 290.5,891.9 290.9,890.1 291.4,902.0 291.8,900.0 292.2,890.5 292.7,897.3 293.1,891.4 293.5,887.1 294.0,892.9 294.4,871.3 294.9,888.1 295.3,875.3 295.7,874.9 296.2,877.3 296.6,868.6 297.1,857.0 297.5,848.3 297.9,854.3 298.4,860.8 298.8,851.8 299.2,870.4 299.7,859.0 300.1,849.6 300.6,845.9 301.0,860.8 301.4,860.9 301.9,831.2 302.3,845.4 302.7,852.5 303.2,850.8 303.6,839.8 304.1,826.7 304.5,835.1 304.9,822.7 305.4,833.4 305.8,826.5 306.2,824.0 306.7,834.5 307.1,832.9 307.6,798.2 308.0,832.4 308.4,819.5 308.9,829.7 309.3,829.7 309.7,839.1 310.2,835.3 310.6,841.0 311.1,823.7 311.5,830.6 311.9,831.7 312.4,817.5 312.8,857.7 313.2,849.2 313.7,863.9 314.1,839.9 314.6,832.7 315.0,828.7 315.4,828.8 315.9,844.5 316.3,826.3 316.7,836.7 317.2,847.5 317.6,857.1 318.1,842.1 318.5,846.2 318.9,845.0 319.4,841.7 319.8,843.9 320.2,851.1 320.7,838.1 321.1,856.3 321.6,857.0 322.0,849.2 322.4,853.6 322.9,855.8 323.3,859.6 323.8,856.7 324.2,863.0 324.6,872.5 325.1,859.2 325.5,874.4 325.9,867.9 326.4,861.7 326.8,869.9 327.3,849.8 327.7,883.1 328.1,879.4 328.6,873.5 329.0,859.4 329.4,865.2 329.9,876.6 330.3,852.2 330.8,867.2 331.2,866.7 331.6,857.9 332.1,872.7 332.5,869.0 332.9,864.4 333.4,864.6 333.8,859.5 334.3,876.0 334.7,866.9 335.1,869.6 335.6,877.5 336.0,847.1 336.4,861.1 336.9,856.5 337.3,876.4 337.8,867.2 338.2,872.4 338.6,888.7 339.1,868.9 339.5,868.8 339.9,866.6 340.4,873.9 340.8,853.4 341.3,854.1 341.7,854.9 342.1,861.2 342.6,863.9 343.0,847.2 343.4,857.4 343.9,858.6 344.3,853.8 344.8,859.0 345.2,842.2 345.6,864.8 346.1,850.3 346.5,852.9 347.0,827.3 347.4,850.4 347.8,849.2 348.3,851.1 348.7,858.4 349.1,849.5 349.6,851.0 350.0,865.1 350.5,851.2 350.9,862.0 351.3,864.3 351.8,863.9 352.2,881.9 352.6,887.0 353.1,873.7 353.5,877.4 354.0,870.9 354.4,875.1 354.8,881.3 355.3,888.3 355.7,894.0 356.1,897.3 356.6,898.1 357.0,887.3 357.5,901.3 357.9,902.6 358.3,901.5 358.8,907.1 359.2,907.7 359.6,927.9 360.1,909.8 360.5,912.7 361.0,902.7 361.4,904.3 361.8,923.2 362.3,886.4 362.7,910.1 363.1,917.2 363.6,936.8 364.0,917.6 364.5,909.5 364.9,915.7 365.3,908.7 365.8,902.0 366.2,923.4 366.6,936.1 367.1,913.4 367.5,919.5 368.0,927.7 368.4,903.3 368.8,924.0 369.3,924.3 369.7,916.9 370.2,925.6 370.6,924.9 371.0,922.4 371.5,933.0 371.9,927.7 372.3,926.8 372.8,923.1 373.2,921.5 373.7,921.5 374.1,928.8 374.5,926.1 375.0,939.2 375.4,938.8 375.8,928.3 376.3,949.7 376.7,936.1 377.2,905.2 377.6,946.2 378.0,925.7 378.5,945.9 378.9,926.1 379.3,915.9 379.8,919.6 380.2,939.9 380.7,947.6 381.1,950.2 381.5,927.4 382.0,934.5 382.4,932.5 382.8,929.9 383.3,929.5 383.7,926.6 384.2,928.5 384.6,945.9 385.0,922.4 385.5,948.9 385.9,919.8 386.3,934.8 386.8,928.2 387.2,933.9 387.7,938.9 388.1,935.6 388.5,942.1 389.0,951.8 389.4,936.1 389.8,947.9 390.3,936.1 390.7,949.2 391.2,956.9 391.6,944.4 392.0,942.8 392.5,959.6 392.9,949.8 393.3,938.3 393.8,953.8 394.2,952.4 394.7,946.9 395.1,964.0 395.5,975.1 396.0,969.2 396.4,950.6 396.9,948.8 397.3,947.5 397.7,947.8 398.2,968.1 398.6,951.5 399.0,948.5 399.5,967.8 399.9,958.6 400.4,964.5 400.8,960.6 401.2,967.2 401.7,984.0 402.1,962.8 402.5,980.2 403.0,975.3 403.4,980.3 403.9,967.1 404.3,967.1 404.7,968.9 405.2,956.6 405.6,964.2 406.0,965.4 406.5,995.6 406.9,963.5 407.4,961.9 407.8,965.1 408.2,959.6 408.7,944.9 409.1,937.4 409.5,929.5 410.0,934.4 410.4,948.3 410.9,946.0 411.3,951.6 411.7,936.6 412.2,938.1 412.6,940.4 413.0,935.3 413.5,935.1 413.9,939.3 414.4,926.5 414.8,907.2 415.2,919.1 415.7,920.5 416.1,922.3 416.5,929.9 417.0,909.8 417.4,925.7 417.9,919.8 418.3,920.7 418.7,917.0 419.2,923.9 419.6,923.1 420.1,939.3 420.5,931.5 420.9,919.6 421.4,934.0 421.8,932.1 422.2,918.2 422.7,913.6 423.1,909.8 423.6,938.9 424.0,915.7 424.4,921.1 424.9,926.1 425.3,914.4 425.7,907.5 426.2,923.4 426.6,921.9 427.1,919.2 427.5,914.4 427.9,920.0 428.4,895.5 428.8,907.3 429.2,920.1 429.7,914.7 430.1,886.1 430.6,883.1 431.0,908.1 431.4,902.9 431.9,902.7 432.3,921.8 432.7,923.1 433.2,910.1 433.6,926.7 434.1,925.9 434.5,930.7 434.9,924.0 435.4,910.8 435.8,925.3 436.2,928.1 436.7,923.4 437.1,899.3 437.6,914.2 438.0,929.9 438.4,924.6 438.9,913.7 439.3,914.9 439.7,932.4 440.2,914.0 440.6,916.0 441.1,906.9 441.5,927.2 441.9,909.1 442.4,920.3 442.8,934.1 443.3,913.2 443.7,925.4 444.1,916.0 444.6,918.4 445.0,907.4 445.4,905.8 445.9,898.9 446.3,903.9 446.8,922.9 447.2,921.5 447.6,908.4 448.1,917.9 448.5,905.3 448.9,903.7 449.4,918.7 449.8,917.9 450.3,920.2 450.7,923.3 451.1,914.4 451.6,908.0 452.0,907.3 452.4,925.9 452.9,928.9 453.3,912.2 453.8,914.0 454.2,921.0 454.6,938.3 455.1,932.7 455.5,919.4 455.9,921.7 456.4,895.3 456.8,906.7 457.3,906.4 457.7,918.4 458.1,920.3 458.6,915.1 459.0,918.3 459.4,914.5 459.9,910.8 460.3,911.9 460.8,907.5 461.2,921.4 461.6,914.3 462.1,913.7 462.5,902.8 462.9,916.6 463.4,913.8 463.8,923.6 464.3,913.0 464.7,918.9 465.1,928.5 465.6,932.4 466.0,928.3 466.5,926.7 466.9,943.4 467.3,927.1 467.8,931.3 468.2,912.2 468.6,914.2 469.1,926.9 469.5,933.8 470.0,914.1 470.4,926.7 470.8,927.7 471.3,931.0 471.7,922.4 472.1,918.9 472.6,911.9 473.0,920.6 473.5,903.4 473.9,910.3 474.3,915.8 474.8,902.8 475.2,914.5 475.6,908.0 476.1,923.5 476.5,915.2 477.0,931.6 477.4,915.2 477.8,928.5 478.3,918.9 478.7,935.8 479.1,920.2 479.6,908.4 480.0,914.2 480.5,906.0 480.9,926.1 481.3,904.2 481.8,902.6 482.2,931.1 482.6,930.8 483.1,925.7 483.5,916.6 484.0,917.0 484.4,943.3 484.8,918.9 485.3,921.1 485.7,927.0 486.1,910.7 486.6,914.6 487.0,898.2 487.5,898.8 487.9,908.7 488.3,895.4 488.8,896.9 489.2,910.9 489.6,915.8 490.1,905.4 490.5,894.1 491.0,893.8 491.4,873.8 491.8,881.4 492.3,878.8 492.7,874.9 493.2,889.4 493.6,884.0 494.0,883.5 494.5,867.1 494.9,897.3 495.3,876.8 495.8,882.6 496.2,880.0 496.7,892.3 497.1,890.3 497.5,878.8 498.0,885.5 498.4,895.3 498.8,877.7 499.3,891.8 499.7,901.4 500.2,888.3 500.6,915.6 501.0,899.9 501.5,920.0 501.9,920.6 502.3,924.5 502.8,919.5 503.2,923.3 503.7,912.7 504.1,913.1 504.5,901.7 505.0,894.4 505.4,902.8 505.8,901.6 506.3,915.5 506.7,921.2 507.2,908.4 507.6,909.4 508.0,901.9 508.5,927.7 508.9,896.3 509.3,926.9 509.8,914.3 510.2,902.6 510.7,919.5 511.1,919.7 511.5,937.8 512.0,932.7 512.4,934.6 512.8,916.9 513.3,909.9 513.7,913.2 514.2,902.1 514.6,900.1 515.0,908.7 515.5,909.5 515.9,908.8 516.4,902.1 516.8,888.3 517.2,895.3 517.7,903.6 518.1,903.5 518.5,894.4 519.0,899.4 519.4,894.4 519.9,895.2 520.3,883.4 520.7,889.3 521.2,919.5 521.6,901.0 522.0,889.0 522.5,897.3 522.9,891.9 523.4,896.7 523.8,888.3 524.2,900.6 524.7,896.1 525.1,888.7 525.5,903.1 526.0,896.3 526.4,896.3 526.9,865.4 527.3,878.3 527.7,882.3 528.2,881.9 528.6,882.6 529.0,885.1 529.5,868.4 529.9,879.2 530.4,866.9 530.8,871.6 531.2,868.6 531.7,867.4 532.1,869.0 532.5,872.0 533.0,862.4 533.4,854.0 533.9,880.9 534.3,870.8 534.7,871.2 535.2,883.6 535.6,882.7 536.0,881.0 536.5,897.6 536.9,874.4 537.4,876.3 537.8,877.3 538.2,875.9 538.7,877.2 539.1,858.8 539.6,875.9 540.0,878.9 540.4,887.6 540.9,881.9 541.3,883.9 541.7,883.9 542.2,890.8 542.6,890.4 543.1,880.2 543.5,878.5 543.9,886.1 544.4,889.5 544.8,887.6 545.2,911.6 545.7,882.4 546.1,887.1 546.6,884.0 547.0,874.9 547.4,885.0 547.9,875.7 548.3,879.6 548.7,878.8 549.2,887.6 549.6,885.5 550.1,878.5 550.5,895.3 550.9,893.4 551.4,895.2 551.8,893.0 552.2,870.4 552.7,895.7 553.1,906.1 553.6,895.2 554.0,903.9 554.4,899.4 554.9,894.9 555.3,904.8 555.7,908.5 556.2,918.1 556.6,902.3 557.1,909.0 557.5,895.2 557.9,888.5 558.4,903.1 558.8,898.6 559.2,898.0 559.7,895.5 560.1,916.0 560.6,903.7 561.0,887.3 561.4,902.3 561.9,898.1 562.3,899.3 562.8,912.9 563.2,897.0 563.6,902.6 564.1,902.7 564.5,901.1 564.9,899.7 565.4,919.1 565.8,901.0 566.3,910.6 566.7,906.2 567.1,911.7 567.6,911.5 568.0,893.6 568.4,900.8 568.9,907.9 569.3,903.3 569.8,899.6 570.2,899.3 570.6,918.7 571.1,911.9 571.5,906.4 571.9,896.4 572.4,887.2 572.8,906.2 573.3,893.8 573.7,906.3 574.1,901.9 574.6,905.6 575.0,904.9 575.4,881.0 575.9,890.8 576.3,889.3 576.8,878.6 577.2,879.7 577.6,905.0 578.1,897.1 578.5,899.2 578.9,884.1 579.4,878.2 579.8,902.3 580.3,903.0 580.7,901.2 581.1,899.1 581.6,913.9 582.0,904.8 582.4,924.2 582.9,943.2 583.3,939.5 583.8,926.1 584.2,928.1 584.6,941.5 585.1,937.1 585.5,918.6 585.9,937.4 586.4,908.3 586.8,895.8 587.3,931.1 587.7,901.1 588.1,902.5 588.6,889.0 589.0,893.1 589.5,892.9 589.9,891.3 590.3,881.1 590.8,884.6 591.2,888.9 591.6,897.8 592.1,881.2 592.5,875.2 593.0,859.7 593.4,865.3 593.8,868.7 594.3,867.0 594.7,855.1 595.1,861.1 595.6,864.3 596.0,843.7 596.5,837.4 596.9,852.3 597.3,862.3 597.8,850.2 598.2,873.4 598.6,843.9 599.1,862.1 599.5,853.2 600.0,870.6 600.4,863.0 600.8,854.5 601.3,845.1 601.7,866.3 602.1,847.2 602.6,855.9 603.0,869.1 603.5,872.5 603.9,870.9 604.3,857.0 604.8,875.4 605.2,872.2 605.6,877.7 606.1,862.5 606.5,863.5 607.0,857.1 607.4,860.5 607.8,871.4 608.3,864.0 608.7,867.1 609.1,883.2 609.6,867.2 610.0,845.8 610.5,874.5 610.9,872.5 611.3,887.7 611.8,872.4 612.2,878.3 612.7,866.7 613.1,875.4 613.5,883.3 614.0,867.5 614.4,876.5 614.8,883.1 615.3,877.1 615.7,890.0 616.2,877.8 616.6,884.8 617.0,890.6 617.5,885.3 617.9,897.7 618.3,880.6 618.8,910.5 619.2,878.8 619.7,881.3 620.1,881.5 620.5,889.6 621.0,880.3 621.4,884.9 621.8,884.3 622.3,875.8 622.7,892.0 623.2,889.8 623.6,883.4 624.0,882.8 624.5,894.0 624.9,891.8 625.3,893.1 625.8,886.2 626.2,877.7 626.7,897.1 627.1,894.7 627.5,899.5 628.0,893.1 628.4,882.1 628.8,890.4 629.3,893.0 629.7,888.1 630.2,905.6 630.6,902.4 631.0,902.1 631.5,899.3 631.9,902.5 632.3,909.4 632.8,895.9 633.2,917.2 633.7,917.8 634.1,911.2 634.5,921.8 635.0,932.6 635.4,930.2 635.9,928.2 636.3,937.9 636.7,933.6 637.2,946.7 637.6,939.9 638.0,959.5 638.5,957.3 638.9,962.7 639.4,947.8 639.8,995.6 640.2,962.5 640.7,974.3 641.1,961.8 641.5,962.8 642.0,969.0 642.4,956.6 642.9,971.2 643.3,958.0 643.7,940.1 644.2,970.7 644.6,966.2 645.0,977.7 645.5,961.1 645.9,977.9 646.4,957.4 646.8,958.6 647.2,971.8 647.7,967.8 648.1,971.5 648.5,966.7 649.0,953.1 649.4,956.3 649.9,963.5 650.3,964.9 650.7,952.9 651.2,971.1 651.6,942.4 652.0,937.5 652.5,961.8 652.9,931.0 653.4,956.8 653.8,941.5 654.2,926.9 654.7,945.3 655.1,945.8 655.5,940.9 656.0,941.1 656.4,936.2 656.9,944.8 657.3,943.9 657.7,942.3 658.2,942.2 658.6,944.2 659.1,933.8 659.5,933.9 659.9,945.0 660.4,926.4 660.8,946.7 661.2,929.4 661.7,940.7 662.1,933.4 662.6,931.5 663.0,928.3 663.4,924.2 663.9,948.4 664.3,914.5 664.7,936.0 665.2,947.5 665.6,952.8 666.1,919.5 666.5,926.2 666.9,935.7 667.4,928.6 667.8,921.7 668.2,928.9 668.7,938.5 669.1,946.2 669.6,936.6 670.0,938.6 670.4,947.1 670.9,934.2 671.3,955.1 671.7,948.7 672.2,937.5 672.6,946.1 673.1,948.4 673.5,944.3 673.9,939.2 674.4,943.3 674.8,961.7 675.2,950.9 675.7,970.7 676.1,967.7 676.6,933.4 677.0,929.5 677.4,944.7 677.9,946.4 678.3,940.8 678.7,932.3 679.2,950.1 679.6,954.6 680.1,952.1 680.5,940.7 680.9,938.8 681.4,941.2 681.8,926.3 682.2,937.1 682.7,927.0 683.1,929.3 683.6,939.0 684.0,916.8 684.4,927.9 684.9,935.7 685.3,930.7 685.8,942.7 686.2,931.3 686.6,925.5 687.1,925.0 687.5,942.5 687.9,935.5 688.4,913.0 688.8,927.7 689.3,915.0 689.7,905.7 690.1,930.2 690.6,907.5 691.0,911.8 691.4,908.4 691.9,899.8 692.3,908.0 692.8,912.6 693.2,910.3 693.6,917.4 694.1,911.2 694.5,927.7 694.9,894.5 695.4,914.5 695.8,904.4 696.3,906.8 696.7,906.7 697.1,908.0 697.6,912.3 698.0,922.4 698.4,912.6 698.9,900.3 699.3,922.3 699.8,923.9 700.2,898.5 700.6,902.3 701.1,895.7 701.5,903.1 701.9,902.7 702.4,893.7 702.8,891.7 703.3,899.6 703.7,917.3 704.1,908.9 704.6,913.1 705.0,880.7 705.4,892.5 705.9,892.0 706.3,885.1 706.8,893.0 707.2,889.8 707.6,901.4 708.1,905.8 708.5,878.7 709.0,908.0 709.4,903.2 709.8,909.1 710.3,904.8 710.7,901.4 711.1,893.9 711.6,906.8 712.0,896.7 712.5,907.2 712.9,887.5 713.3,906.1 713.8,896.8 714.2,888.3 714.6,906.9 715.1,890.0 715.5,888.5 716.0,895.7 716.4,890.9 716.8,883.2 717.3,891.6 717.7,895.8 718.1,892.5 718.6,882.0 719.0,873.0 719.5,879.6 719.9,878.2 720.3,868.2 720.8,890.8 721.2,891.8 721.6,903.0 722.1,873.3 722.5,898.5 723.0,877.9 723.4,872.2 723.8,884.2 724.3,879.6 724.7,869.5 725.1,853.2 725.6,866.6 726.0,855.6 726.5,851.9 726.9,856.2 727.3,835.8 727.8,838.6 728.2,846.7 728.6,850.4 729.1,853.5 729.5,845.6 730.0,850.1 730.4,846.3 730.8,852.5 731.3,852.6 731.7,873.2 732.2,870.2 732.6,871.2 733.0,869.6 733.5,860.6 733.9,866.5 734.3,863.0 734.8,853.9 735.2,860.4 735.7,877.6" fill="none" stroke="#000" stroke-width="2.2" stroke-linejoin="round"/>
<polyline points="79.5,877.7 79.9,869.4 80.4,875.3 80.8,873.0 81.3,877.6 81.7,867.2 82.1,864.8 82.6,884.1 83.0,872.0 83.4,881.5 83.9,884.4 84.3,869.4 84.8,872.4 85.2,869.9 85.6,855.0 86.1,862.3 86.5,863.5 86.9,878.5 87.4,887.9 87.8,867.6 88.3,882.5 88.7,886.0 89.1,888.0 89.6,886.6 90.0,872.9 90.4,894.9 90.9,896.9 91.3,895.6 91.8,898.0 92.2,908.6 92.6,911.0 93.1,902.5 93.5,900.9 93.9,904.1 94.4,904.5 94.8,906.1 95.3,900.8 95.7,896.3 96.1,910.9 96.6,907.3 97.0,899.1 97.4,902.7 97.9,911.4 98.3,910.0 98.8,909.6 99.2,906.0 99.6,930.5 100.1,912.4 100.5,924.6 100.9,913.5 101.4,903.2 101.8,912.5 102.3,911.2 102.7,904.5 103.1,894.4 103.6,908.8 104.0,914.6 104.5,907.6 104.9,903.7 105.3,894.3 105.8,907.3 106.2,903.9 106.6,903.6 107.1,902.5 107.5,907.4 108.0,906.1 108.4,897.5 108.8,897.6 109.3,896.0 109.7,905.0 110.1,897.5 110.6,896.0 111.0,881.7 111.5,874.3 111.9,878.7 112.3,864.0 112.8,884.2 113.2,882.5 113.6,889.4 114.1,877.9 114.5,884.9 115.0,876.0 115.4,875.7 115.8,878.2 116.3,881.1 116.7,877.5 117.1,876.4 117.6,877.8 118.0,869.4 118.5,869.6 118.9,863.7 119.3,853.6 119.8,859.4 120.2,867.2 120.6,870.8 121.1,867.6 121.5,864.2 122.0,859.5 122.4,847.1 122.8,868.7 123.3,870.1 123.7,872.9 124.1,869.0 124.6,873.2 125.0,880.1 125.5,867.6 125.9,874.2 126.3,860.9 126.8,875.4 127.2,874.9 127.6,866.4 128.1,885.4 128.5,877.1 129.0,861.5 129.4,867.9 129.8,889.2 130.3,877.8 130.7,872.6 131.2,872.7 131.6,858.9 132.0,873.3 132.5,857.1 132.9,874.7 133.3,881.4 133.8,862.5 134.2,862.5 134.7,859.9 135.1,852.8 135.5,861.8 136.0,860.8 136.4,891.9 136.8,890.6 137.3,876.0 137.7,878.0 138.2,871.4 138.6,878.8 139.0,862.9 139.5,852.8 139.9,861.8 140.3,862.8 140.8,868.9 141.2,868.7 141.7,875.9 142.1,885.6 142.5,881.5 143.0,881.2 143.4,893.2 143.8,880.8 144.3,886.6 144.7,884.0 145.2,888.2 145.6,876.4 146.0,872.9 146.5,886.0 146.9,881.0 147.3,870.2 147.8,868.8 148.2,878.2 148.7,876.2 149.1,873.4 149.5,882.3 150.0,854.7 150.4,879.1 150.8,881.7 151.3,871.5 151.7,881.4 152.2,904.7 152.6,890.4 153.0,899.2 153.5,896.6 153.9,907.7 154.4,901.8 154.8,894.2 155.2,893.8 155.7,903.2 156.1,902.6 156.5,906.8 157.0,900.9 157.4,905.4 157.9,914.5 158.3,933.8 158.7,908.0 159.2,904.2 159.6,910.5 160.0,903.7 160.5,907.7 160.9,906.1 161.4,903.0 161.8,901.0 162.2,904.1 162.7,906.4 163.1,919.0 163.5,904.6 164.0,920.1 164.4,925.0 164.9,908.2 165.3,909.5 165.7,888.0 166.2,897.4 166.6,891.5 167.0,900.2 167.5,899.1 167.9,890.6 168.4,891.3 168.8,891.6 169.2,893.1 169.7,899.0 170.1,899.8 170.5,903.8 171.0,890.2 171.4,892.7 171.9,899.8 172.3,889.3 172.7,897.9 173.2,888.5 173.6,878.3 174.0,883.8 174.5,891.9 174.9,902.0 175.4,872.5 175.8,884.5 176.2,899.3 176.7,882.2 177.1,909.8 177.6,899.9 178.0,899.5 178.4,900.6 178.9,909.5 179.3,883.4 179.7,903.2 180.2,893.2 180.6,888.5 181.1,901.4 181.5,890.2 181.9,884.1 182.4,882.9 182.8,890.8 183.2,883.4 183.7,889.2 184.1,880.2 184.6,902.1 185.0,881.7 185.4,893.0 185.9,892.4 186.3,910.0 186.7,896.8 187.2,877.4 187.6,856.1 188.1,880.8 188.5,880.6 188.9,868.9 189.4,868.4 189.8,874.3 190.2,874.9 190.7,875.7 191.1,863.4 191.6,861.5 192.0,857.9 192.4,864.1 192.9,864.9 193.3,870.7 193.7,868.6 194.2,880.7 194.6,862.5 195.1,875.0 195.5,868.4 195.9,890.4 196.4,873.7 196.8,877.5 197.2,887.3 197.7,890.2 198.1,894.4 198.6,878.7 199.0,882.5 199.4,890.1 199.9,888.0 200.3,895.1 200.8,904.4 201.2,903.1 201.6,893.9 202.1,885.3 202.5,893.1 202.9,877.2 203.4,876.6 203.8,883.3 204.3,901.3 204.7,884.9 205.1,881.5 205.6,892.5 206.0,900.1 206.4,868.9 206.9,875.2 207.3,886.1 207.8,869.3 208.2,876.1 208.6,876.5 209.1,880.2 209.5,880.0 209.9,873.0 210.4,883.6 210.8,885.3 211.3,881.2 211.7,905.7 212.1,872.4 212.6,879.3 213.0,875.3 213.4,877.4 213.9,872.4 214.3,879.3 214.8,881.9 215.2,880.4 215.6,874.6 216.1,876.1 216.5,866.6 216.9,886.4 217.4,863.8 217.8,864.1 218.3,881.2 218.7,875.5 219.1,860.4 219.6,868.0 220.0,875.0 220.4,895.4 220.9,868.7 221.3,859.9 221.8,853.0 222.2,850.7 222.6,866.4 223.1,868.8 223.5,872.5 223.9,867.9 224.4,860.6 224.8,851.7 225.3,850.7 225.7,862.2 226.1,861.8 226.6,845.9 227.0,860.2 227.5,847.3 227.9,840.9 228.3,844.8 228.8,849.2 229.2,841.5 229.6,851.8 230.1,857.1 230.5,860.3 231.0,856.7 231.4,853.7 231.8,843.7 232.3,858.1 232.7,855.2 233.1,854.6 233.6,847.5 234.0,862.2 234.5,848.5 234.9,848.7 235.3,853.8 235.8,865.5 236.2,854.4 236.6,831.5 237.1,847.8 237.5,844.0 238.0,847.7 238.4,837.6 238.8,856.2 239.3,857.5 239.7,858.9 240.1,841.8 240.6,836.3 241.0,837.5 241.5,842.5 241.9,854.4 242.3,838.8 242.8,847.8 243.2,845.7 243.6,846.5 244.1,853.6 244.5,859.5 245.0,854.7 245.4,863.1 245.8,850.1 246.3,853.7 246.7,848.4 247.1,875.0 247.6,853.7 248.0,862.4 248.5,863.7 248.9,874.9 249.3,878.3 249.8,883.5 250.2,858.8 250.7,873.5 251.1,864.1 251.5,863.5 252.0,872.1 252.4,872.0 252.8,871.0 253.3,854.7 253.7,860.5 254.2,860.2 254.6,855.3 255.0,864.5 255.5,846.1 255.9,870.0 256.3,857.4 256.8,854.9 257.2,876.5 257.7,859.9 258.1,864.0 258.5,861.7 259.0,874.1 259.4,862.1 259.8,868.9 260.3,864.7 260.7,852.3 261.2,866.6 261.6,887.3 262.0,880.1 262.5,878.5 262.9,866.2 263.3,878.8 263.8,891.6 264.2,869.3 264.7,877.6 265.1,880.2 265.5,887.9 266.0,869.8 266.4,885.1 266.8,897.7 267.3,885.2 267.7,887.1 268.2,875.3 268.6,869.8 269.0,883.0 269.5,883.5 269.9,864.5 270.3,874.7 270.8,879.8 271.2,878.3 271.7,889.2 272.1,879.7 272.5,874.6 273.0,883.0 273.4,875.9 273.9,885.4 274.3,879.9 274.7,883.9 275.2,881.1 275.6,889.1 276.0,878.1 276.5,879.4 276.9,880.6 277.4,888.7 277.8,886.2 278.2,877.3 278.7,869.9 279.1,873.6 279.5,882.4 280.0,883.4 280.4,871.8 280.9,888.6 281.3,867.5 281.7,879.3 282.2,875.2 282.6,892.9 283.0,890.0 283.5,906.5 283.9,892.8 284.4,900.9 284.8,914.6 285.2,910.6 285.7,896.6 286.1,898.2 286.5,889.7 287.0,900.0 287.4,927.2 287.9,901.0 288.3,909.9 288.7,908.2 289.2,903.4 289.6,909.1 290.0,906.5 290.5,888.9 290.9,898.8 291.4,906.2 291.8,905.9 292.2,890.7 292.7,895.8 293.1,891.8 293.5,903.7 294.0,894.1 294.4,898.3 294.9,903.2 295.3,874.0 295.7,879.0 296.2,879.5 296.6,885.5 297.1,865.2 297.5,848.4 297.9,858.7 298.4,854.1 298.8,872.9 299.2,863.3 299.7,861.2 300.1,846.2 300.6,854.5 301.0,864.1 301.4,853.5 301.9,852.2 302.3,835.5 302.7,836.5 303.2,840.2 303.6,841.5 304.1,834.0 304.5,844.0 304.9,845.4 305.4,857.2 305.8,827.2 306.2,832.3 306.7,830.9 307.1,838.8 307.6,822.1 308.0,838.0 308.4,819.7 308.9,807.4 309.3,838.5 309.7,847.5 310.2,838.7 310.6,843.4 311.1,833.6 311.5,841.0 311.9,848.9 312.4,832.3 312.8,828.3 313.2,834.8 313.7,843.8 314.1,838.4 314.6,854.1 315.0,842.8 315.4,826.7 315.9,837.0 316.3,851.0 316.7,838.4 317.2,850.3 317.6,845.7 318.1,859.8 318.5,851.9 318.9,842.9 319.4,844.4 319.8,845.1 320.2,848.1 320.7,853.6 321.1,849.2 321.6,843.5 322.0,866.5 322.4,862.6 322.9,862.5 323.3,859.2 323.8,852.3 324.2,872.4 324.6,858.8 325.1,881.9 325.5,877.9 325.9,874.2 326.4,874.3 326.8,880.0 327.3,881.5 327.7,880.9 328.1,878.6 328.6,892.8 329.0,887.8 329.4,873.1 329.9,864.6 330.3,855.8 330.8,839.9 331.2,865.0 331.6,875.1 332.1,870.8 332.5,862.9 332.9,870.2 333.4,875.7 333.8,867.3 334.3,872.6 334.7,880.6 335.1,875.2 335.6,858.6 336.0,881.7 336.4,870.4 336.9,870.7 337.3,861.8 337.8,863.9 338.2,880.9 338.6,870.7 339.1,879.7 339.5,850.9 339.9,852.9 340.4,863.9 340.8,857.7 341.3,862.8 341.7,869.9 342.1,849.8 342.6,858.1 343.0,853.2 343.4,850.3 343.9,851.9 344.3,849.2 344.8,853.2 345.2,857.0 345.6,849.6 346.1,854.9 346.5,857.9 347.0,838.0 347.4,849.9 347.8,841.3 348.3,860.3 348.7,856.0 349.1,859.9 349.6,867.9 350.0,874.3 350.5,870.8 350.9,878.0 351.3,860.9 351.8,872.9 352.2,886.6 352.6,890.9 353.1,875.6 353.5,880.8 354.0,892.1 354.4,882.5 354.8,898.5 355.3,899.0 355.7,882.0 356.1,917.6 356.6,901.3 357.0,890.4 357.5,902.2 357.9,909.4 358.3,914.1 358.8,924.4 359.2,921.7 359.6,913.9 360.1,919.6 360.5,914.6 361.0,909.2 361.4,909.1 361.8,925.1 362.3,912.7 362.7,920.4 363.1,925.9 363.6,933.7 364.0,944.2 364.5,914.3 364.9,910.5 365.3,895.0 365.8,909.5 366.2,912.1 366.6,926.7 367.1,931.0 367.5,923.8 368.0,940.5 368.4,926.2 368.8,932.9 369.3,936.8 369.7,914.8 370.2,917.4 370.6,926.5 371.0,921.6 371.5,918.4 371.9,929.5 372.3,945.0 372.8,940.3 373.2,926.8 373.7,931.0 374.1,948.3 374.5,925.9 375.0,938.5 375.4,927.6 375.8,930.9 376.3,941.1 376.7,941.8 377.2,942.4 377.6,945.4 378.0,944.7 378.5,933.0 378.9,920.6 379.3,940.2 379.8,932.6 380.2,937.1 380.7,942.0 381.1,932.1 381.5,938.2 382.0,924.7 382.4,937.8 382.8,943.7 383.3,931.6 383.7,946.7 384.2,944.7 384.6,939.0 385.0,937.3 385.5,933.0 385.9,948.1 386.3,946.9 386.8,926.9 387.2,928.3 387.7,946.8 388.1,937.3 388.5,941.5 389.0,937.5 389.4,951.1 389.8,935.9 390.3,951.9 390.7,940.9 391.2,945.9 391.6,958.5 392.0,957.4 392.5,954.3 392.9,941.8 393.3,964.0 393.8,955.3 394.2,943.5 394.7,946.7 395.1,965.6 395.5,965.2 396.0,953.9 396.4,963.9 396.9,956.9 397.3,949.0 397.7,954.3 398.2,983.6 398.6,952.3 399.0,952.0 399.5,953.9 399.9,961.3 400.4,978.7 400.8,955.3 401.2,970.2 401.7,967.3 402.1,978.0 402.5,979.8 403.0,979.6 403.4,966.8 403.9,970.6 404.3,999.1 404.7,983.7 405.2,969.3 405.6,971.0 406.0,964.7 406.5,954.1 406.9,955.5 407.4,961.9 407.8,959.3 408.2,954.3 408.7,946.7 409.1,943.9 409.5,948.1 410.0,956.1 410.4,940.8 410.9,943.2 411.3,952.0 411.7,942.8 412.2,948.1 412.6,957.5 413.0,939.8 413.5,929.0 413.9,942.6 414.4,947.0 414.8,930.1 415.2,940.7 415.7,942.6 416.1,931.8 416.5,926.1 417.0,926.0 417.4,932.0 417.9,929.7 418.3,923.3 418.7,928.7 419.2,935.2 419.6,941.6 420.1,928.1 420.5,934.7 420.9,911.2 421.4,922.8 421.8,935.0 422.2,933.3 422.7,919.1 423.1,919.4 423.6,920.9 424.0,914.7 424.4,914.8 424.9,911.8 425.3,901.8 425.7,923.1 426.2,918.9 426.6,909.8 427.1,906.2 427.5,908.7 427.9,901.6 428.4,916.3 428.8,919.6 429.2,916.2 429.7,907.7 430.1,894.4 430.6,893.2 431.0,923.3 431.4,904.3 431.9,922.3 432.3,934.4 432.7,919.5 433.2,925.8 433.6,928.6 434.1,936.3 434.5,932.1 434.9,922.8 435.4,932.0 435.8,924.7 436.2,919.4 436.7,921.8 437.1,914.8 437.6,921.0 438.0,938.7 438.4,938.5 438.9,921.0 439.3,912.0 439.7,918.9 440.2,922.5 440.6,916.9 441.1,932.2 441.5,929.8 441.9,924.6 442.4,921.4 442.8,925.8 443.3,929.0 443.7,935.6 444.1,928.1 444.6,919.4 445.0,935.1 445.4,930.9 445.9,916.9 446.3,902.8 446.8,906.9 447.2,896.1 447.6,899.7 448.1,915.8 448.5,912.8 448.9,918.7 449.4,901.8 449.8,904.7 450.3,907.6 450.7,912.3 451.1,910.9 451.6,914.9 452.0,920.2 452.4,912.3 452.9,932.4 453.3,937.5 453.8,927.2 454.2,918.0 454.6,919.3 455.1,927.1 455.5,916.5 455.9,918.7 456.4,930.6 456.8,922.4 457.3,930.7 457.7,916.5 458.1,918.1 458.6,908.8 459.0,898.1 459.4,918.6 459.9,917.4 460.3,920.8 460.8,943.1 461.2,922.9 461.6,925.3 462.1,917.7 462.5,926.6 462.9,930.9 463.4,916.3 463.8,920.6 464.3,926.7 464.7,933.0 465.1,930.1 465.6,925.2 466.0,918.7 466.5,944.5 466.9,929.0 467.3,935.8 467.8,929.5 468.2,923.2 468.6,938.7 469.1,921.9 469.5,941.8 470.0,942.6 470.4,945.0 470.8,923.6 471.3,916.7 471.7,916.7 472.1,924.0 472.6,925.1 473.0,903.7 473.5,903.9 473.9,908.7 474.3,911.6 474.8,916.7 475.2,918.2 475.6,907.1 476.1,929.6 476.5,920.9 477.0,908.1 477.4,911.7 477.8,904.0 478.3,917.5 478.7,913.7 479.1,909.1 479.6,911.0 480.0,918.7 480.5,923.6 480.9,933.9 481.3,908.9 481.8,922.9 482.2,932.0 482.6,919.9 483.1,929.9 483.5,930.7 484.0,927.5 484.4,926.8 484.8,922.9 485.3,917.9 485.7,913.0 486.1,921.0 486.6,912.5 487.0,911.3 487.5,912.6 487.9,906.8 488.3,905.0 488.8,892.3 489.2,904.0 489.6,909.9 490.1,898.1 490.5,903.4 491.0,882.6 491.4,904.3 491.8,894.8 492.3,889.9 492.7,881.2 493.2,886.3 493.6,898.4 494.0,897.3 494.5,882.3 494.9,871.4 495.3,871.3 495.8,884.3 496.2,878.1 496.7,889.4 497.1,899.6 497.5,879.1 498.0,883.5 498.4,896.1 498.8,896.5 499.3,888.4 499.7,898.2 500.2,903.1 500.6,902.9 501.0,906.1 501.5,917.3 501.9,922.2 502.3,914.0 502.8,926.1 503.2,937.1 503.7,904.7 504.1,906.6 504.5,911.3 505.0,912.8 505.4,911.7 505.8,923.4 506.3,917.4 506.7,912.6 507.2,916.8 507.6,909.7 508.0,918.1 508.5,915.2 508.9,933.1 509.3,922.9 509.8,921.9 510.2,925.3 510.7,916.1 511.1,917.3 511.5,928.1 512.0,915.0 512.4,924.9 512.8,912.0 513.3,908.9 513.7,918.2 514.2,904.5 514.6,925.9 515.0,909.8 515.5,910.1 515.9,903.2 516.4,913.3 516.8,913.0 517.2,909.4 517.7,905.0 518.1,904.0 518.5,901.9 519.0,901.9 519.4,906.0 519.9,910.2 520.3,902.8 520.7,899.8 521.2,903.4 521.6,905.2 522.0,889.8 522.5,907.6 522.9,896.5 523.4,911.9 523.8,895.9 524.2,911.7 524.7,910.7 525.1,902.1 525.5,883.7 526.0,895.1 526.4,885.7 526.9,880.4 527.3,883.0 527.7,886.5 528.2,881.8 528.6,891.0 529.0,882.4 529.5,875.6 529.9,884.6 530.4,881.0 530.8,886.1 531.2,868.1 531.7,874.3 532.1,874.4 532.5,869.5 533.0,869.4 533.4,882.1 533.9,882.3 534.3,868.3 534.7,903.3 535.2,871.5 535.6,868.8 536.0,887.5 536.5,871.6 536.9,877.5 537.4,875.7 537.8,898.3 538.2,885.8 538.7,885.0 539.1,885.5 539.6,886.4 540.0,892.4 540.4,910.9 540.9,892.0 541.3,891.0 541.7,887.3 542.2,890.8 542.6,886.8 543.1,884.6 543.5,874.1 543.9,899.4 544.4,874.8 544.8,893.9 545.2,901.4 545.7,904.3 546.1,885.3 546.6,901.6 547.0,882.4 547.4,882.7 547.9,891.4 548.3,886.2 548.7,883.4 549.2,886.7 549.6,885.3 550.1,894.0 550.5,898.9 550.9,887.6 551.4,904.9 551.8,893.1 552.2,896.4 552.7,905.9 553.1,901.5 553.6,895.3 554.0,908.7 554.4,887.3 554.9,889.5 555.3,908.5 555.7,907.5 556.2,892.1 556.6,901.4 557.1,914.3 557.5,925.8 557.9,917.1 558.4,892.4 558.8,895.4 559.2,912.2 559.7,901.0 560.1,909.0 560.6,911.2 561.0,911.4 561.4,911.3 561.9,890.7 562.3,909.7 562.8,910.7 563.2,897.5 563.6,896.2 564.1,914.9 564.5,895.2 564.9,900.2 565.4,918.9 565.8,893.8 566.3,920.6 566.7,906.6 567.1,918.6 567.6,923.0 568.0,899.3 568.4,901.5 568.9,909.8 569.3,903.1 569.8,904.7 570.2,905.4 570.6,911.8 571.1,902.8 571.5,906.9 571.9,908.4 572.4,908.1 572.8,906.5 573.3,926.2 573.7,916.6 574.1,918.8 574.6,896.0 575.0,910.4 575.4,901.0 575.9,894.6 576.3,886.1 576.8,888.1 577.2,898.8 577.6,880.5 578.1,897.1 578.5,900.3 578.9,880.9 579.4,909.7 579.8,901.1 580.3,906.3 580.7,923.5 581.1,920.0 581.6,910.4 582.0,927.4 582.4,926.1 582.9,917.3 583.3,931.2 583.8,928.9 584.2,934.2 584.6,933.3 585.1,930.2 585.5,924.6 585.9,908.6 586.4,913.6 586.8,893.0 587.3,905.4 587.7,906.9 588.1,887.2 588.6,904.4 589.0,907.8 589.5,895.3 589.9,905.7 590.3,890.5 590.8,880.2 591.2,887.9 591.6,893.2 592.1,890.2 592.5,876.7 593.0,870.0 593.4,873.8 593.8,876.5 594.3,858.0 594.7,862.8 595.1,861.7 595.6,858.9 596.0,867.3 596.5,860.3 596.9,846.5 597.3,858.8 597.8,865.3 598.2,869.8 598.6,868.5 599.1,846.5 599.5,870.8 600.0,864.7 600.4,850.0 600.8,866.5 601.3,865.5 601.7,878.8 602.1,865.5 602.6,861.2 603.0,865.4 603.5,872.9 603.9,870.1 604.3,873.2 604.8,868.0 605.2,876.3 605.6,869.2 606.1,887.6 606.5,871.7 607.0,892.9 607.4,874.5 607.8,866.0 608.3,875.9 608.7,861.4 609.1,885.5 609.6,880.6 610.0,889.0 610.5,884.9 610.9,887.2 611.3,894.4 611.8,889.4 612.2,862.9 612.7,878.2 613.1,873.1 613.5,888.0 614.0,882.6 614.4,876.2 614.8,880.3 615.3,886.0 615.7,888.7 616.2,885.3 616.6,882.7 617.0,881.9 617.5,905.3 617.9,910.2 618.3,896.1 618.8,899.6 619.2,889.9 619.7,879.7 620.1,889.0 620.5,871.7 621.0,885.5 621.4,903.0 621.8,881.2 622.3,886.4 622.7,891.5 623.2,905.3 623.6,895.6 624.0,896.2 624.5,899.9 624.9,892.6 625.3,887.7 625.8,883.9 626.2,884.3 626.7,895.5 627.1,883.8 627.5,900.3 628.0,895.7 628.4,901.5 628.8,908.1 629.3,919.7 629.7,903.3 630.2,906.6 630.6,900.5 631.0,895.2 631.5,915.5 631.9,925.0 632.3,909.6 632.8,912.2 633.2,919.5 633.7,925.1 634.1,938.6 634.5,936.2 635.0,944.4 635.4,935.5 635.9,932.3 636.3,947.2 636.7,941.1 637.2,942.6 637.6,938.8 638.0,937.3 638.5,946.5 638.9,950.5 639.4,955.1 639.8,971.6 640.2,969.9 640.7,968.7 641.1,953.7 641.5,953.4 642.0,946.5 642.4,974.9 642.9,963.5 643.3,981.0 643.7,994.2 644.2,984.8 644.6,962.6 645.0,962.2 645.5,972.4 645.9,965.7 646.4,959.7 646.8,944.5 647.2,952.0 647.7,957.9 648.1,961.8 648.5,962.2 649.0,961.4 649.4,961.6 649.9,968.0 650.3,953.5 650.7,962.5 651.2,957.4 651.6,943.3 652.0,945.3 652.5,936.1 652.9,951.5 653.4,942.3 653.8,952.8 654.2,954.0 654.7,946.2 655.1,932.7 655.5,939.1 656.0,946.6 656.4,929.3 656.9,951.1 657.3,944.8 657.7,939.7 658.2,947.8 658.6,938.0 659.1,934.4 659.5,938.2 659.9,931.7 660.4,949.0 660.8,950.2 661.2,937.9 661.7,946.6 662.1,937.5 662.6,940.8 663.0,944.0 663.4,936.7 663.9,941.6 664.3,966.1 664.7,950.9 665.2,944.6 665.6,940.5 666.1,946.5 666.5,956.1 666.9,941.3 667.4,933.9 667.8,954.1 668.2,949.0 668.7,945.5 669.1,971.7 669.6,955.0 670.0,937.7 670.4,949.0 670.9,943.6 671.3,952.4 671.7,942.4 672.2,945.9 672.6,942.2 673.1,953.2 673.5,940.9 673.9,948.2 674.4,951.5 674.8,937.5 675.2,959.3 675.7,947.8 676.1,931.6 676.6,940.1 677.0,949.6 677.4,944.1 677.9,954.0 678.3,947.3 678.7,957.7 679.2,948.0 679.6,963.4 680.1,948.4 680.5,942.3 680.9,938.1 681.4,923.3 681.8,948.4 682.2,944.2 682.7,939.1 683.1,933.1 683.6,927.3 684.0,932.7 684.4,935.4 684.9,940.9 685.3,940.5 685.8,942.5 686.2,941.0 686.6,949.3 687.1,940.6 687.5,934.2 687.9,934.4 688.4,942.8 688.8,925.9 689.3,922.8 689.7,920.9 690.1,933.9 690.6,934.2 691.0,924.4 691.4,929.5 691.9,931.2 692.3,911.6 692.8,910.0 693.2,913.8 693.6,907.9 694.1,910.9 694.5,923.8 694.9,903.3 695.4,913.7 695.8,909.1 696.3,900.8 696.7,907.2 697.1,899.9 697.6,915.4 698.0,915.7 698.4,916.9 698.9,915.9 699.3,932.8 699.8,920.3 700.2,921.1 700.6,923.1 701.1,933.4 701.5,928.2 701.9,905.5 702.4,912.2 702.8,890.9 703.3,908.5 703.7,906.5 704.1,917.3 704.6,910.1 705.0,899.5 705.4,889.9 705.9,880.0 706.3,882.1 706.8,908.5 707.2,899.5 707.6,902.1 708.1,901.7 708.5,892.1 709.0,893.9 709.4,905.2 709.8,896.9 710.3,890.9 710.7,912.6 711.1,890.4 711.6,887.1 712.0,898.3 712.5,891.0 712.9,897.6 713.3,890.7 713.8,894.3 714.2,904.7 714.6,898.4 715.1,895.0 715.5,897.8 716.0,902.8 716.4,899.6 716.8,906.2 717.3,890.0 717.7,911.7 718.1,895.1 718.6,894.5 719.0,898.8 719.5,886.4 719.9,895.0 720.3,876.6 720.8,883.4 721.2,879.5 721.6,887.0 722.1,876.7 722.5,875.1 723.0,882.3 723.4,882.4 723.8,862.2 724.3,879.8 724.7,855.7 725.1,864.6 725.6,862.8 726.0,875.1 726.5,870.1 726.9,846.5 727.3,862.8 727.8,847.9 728.2,853.3 728.6,859.1 729.1,863.2 729.5,861.0 730.0,864.5 730.4,867.0 730.8,842.6 731.3,862.3 731.7,878.4 732.2,869.0 732.6,864.9 733.0,881.0 733.5,875.3 733.9,884.9 734.3,888.8 734.8,864.8 735.2,843.6 735.7,876.3" fill="none" stroke="#D3272C" stroke-width="2.2" stroke-linejoin="round"/>
<rect x="79.6" y="779.4" width="663.9" height="247.80000000000007" fill="none" stroke="#222" stroke-width="1.6"/>
<path d="M79.6,796.8 h5 M743.5,796.8 h-5 M79.6,832.3 h5 M743.5,832.3 h-5 M79.6,867.8 h5 M743.5,867.8 h-5 M79.6,903.3 h5 M743.5,903.3 h-5 M79.6,938.8 h5 M743.5,938.8 h-5 M79.6,974.3 h5 M743.5,974.3 h-5 M79.6,1009.8 h5 M743.5,1009.8 h-5 M79.5,1027.2 v-5 M79.5,779.4 v5 M132.9,1027.2 v-5 M132.9,779.4 v5 M186.4,1027.2 v-5 M186.4,779.4 v5 M239.9,1027.2 v-5 M239.9,779.4 v5 M293.3,1027.2 v-5 M293.3,779.4 v5 M346.8,1027.2 v-5 M346.8,779.4 v5 M400.2,1027.2 v-5 M400.2,779.4 v5 M453.7,1027.2 v-5 M453.7,779.4 v5 M507.1,1027.2 v-5 M507.1,779.4 v5 M560.5,1027.2 v-5 M560.5,779.4 v5 M614.0,1027.2 v-5 M614.0,779.4 v5 M667.5,1027.2 v-5 M667.5,779.4 v5 M720.9,1027.2 v-5 M720.9,779.4 v5" stroke="#222" stroke-width="1.4" fill="none"/>
<text x="71.6" y="807.5999999999999" font-family="'Liberation Serif','Times New Roman',serif" font-size="33.5" text-anchor="end" fill="#000">1</text>
<text x="71.6" y="878.5999999999999" font-family="'Liberation Serif','Times New Roman',serif" font-size="33.5" text-anchor="end" fill="#000">0</text>
<text x="71.6" y="949.5999999999999" font-family="'Liberation Serif','Times New Roman',serif" font-size="33.5" text-anchor="end" fill="#000">-1</text>
<text x="71.6" y="1020.5999999999999" font-family="'Liberation Serif','Times New Roman',serif" font-size="33.5" text-anchor="end" fill="#000">-2</text>
<text x="79.5" y="1063.2" font-family="'Liberation Serif','Times New Roman',serif" font-size="33.5" text-anchor="middle" textLength="38.3" lengthAdjust="spacingAndGlyphs" fill="#000">0.0</text>
<text x="186.4" y="1063.2" font-family="'Liberation Serif','Times New Roman',serif" font-size="33.5" text-anchor="middle" textLength="38.3" lengthAdjust="spacingAndGlyphs" fill="#000">0.5</text>
<text x="293.3" y="1063.2" font-family="'Liberation Serif','Times New Roman',serif" font-size="33.5" text-anchor="middle" textLength="38.3" lengthAdjust="spacingAndGlyphs" fill="#000">1.0</text>
<text x="400.20000000000005" y="1063.2" font-family="'Liberation Serif','Times New Roman',serif" font-size="33.5" text-anchor="middle" textLength="38.3" lengthAdjust="spacingAndGlyphs" fill="#000">1.5</text>
<text x="507.1" y="1063.2" font-family="'Liberation Serif','Times New Roman',serif" font-size="33.5" text-anchor="middle" textLength="38.3" lengthAdjust="spacingAndGlyphs" fill="#000">2.0</text>
<text x="614.0" y="1063.2" font-family="'Liberation Serif','Times New Roman',serif" font-size="33.5" text-anchor="middle" textLength="38.3" lengthAdjust="spacingAndGlyphs" fill="#000">2.5</text>
<text x="720.9000000000001" y="1063.2" font-family="'Liberation Serif','Times New Roman',serif" font-size="33.5" text-anchor="middle" textLength="38.3" lengthAdjust="spacingAndGlyphs" fill="#000">3.0</text>
<text x="96.5" y="830" font-family="'Liberation Serif','Times New Roman',serif" font-size="50" textLength="34.5" lengthAdjust="spacingAndGlyphs" fill="#000">C</text>
<text transform="translate(23.2,904.5) rotate(-90)" font-family="'Liberation Serif','Times New Roman',serif" font-size="33.5" text-anchor="middle" textLength="122" lengthAdjust="spacingAndGlyphs"><tspan font-style="italic">f</tspan><tspan font-size="22" dy="5">1,2</tspan><tspan dy="-5"> (t)/Hz</tspan></text>
<text x="401.2" y="1113.6" font-family="'Liberation Serif','Times New Roman',serif" font-size="36" text-anchor="middle" textLength="352.5" lengthAdjust="spacingAndGlyphs" fill="#000">Measurement time/hour</text>
<path d="M955.2,1026.2 V537.7 M984.8,1026.2 V537.7 M1005.7,1026.2 V537.7 M1022.0,1026.2 V537.7 M1035.3,1026.2 V537.7 M1046.6,1026.2 V537.7 M1056.3,1026.2 V537.7 M1064.9,1026.2 V537.7 M1123.2,1026.2 V537.7 M1152.8,1026.2 V537.7 M1173.7,1026.2 V537.7 M1190.0,1026.2 V537.7 M1203.3,1026.2 V537.7 M1214.6,1026.2 V537.7 M1224.3,1026.2 V537.7 M1232.9,1026.2 V537.7 M1291.2,1026.2 V537.7 M1320.8,1026.2 V537.7 M1341.7,1026.2 V537.7 M1358.0,1026.2 V537.7 M1371.3,1026.2 V537.7 M1382.6,1026.2 V537.7 M1392.3,1026.2 V537.7 M1400.9,1026.2 V537.7 M1459.2,1026.2 V537.7 M1488.8,1026.2 V537.7 M1509.7,1026.2 V537.7 M1526.0,1026.2 V537.7 M1539.3,1026.2 V537.7 M1550.6,1026.2 V537.7 M1560.3,1026.2 V537.7 M1568.9,1026.2 V537.7" stroke="#c4c4c4" stroke-width="1.25" stroke-dasharray="5.5 5.6" fill="none"/>
<path d="M904.5,651.6 H1577.0 M904.5,622.9 H1577.0 M904.5,602.6 H1577.0 M904.5,586.8 H1577.0 M904.5,573.9 H1577.0 M904.5,563.0 H1577.0 M904.5,553.6 H1577.0 M904.5,545.2 H1577.0 M904.5,814.4 H1577.0 M904.5,785.7 H1577.0 M904.5,765.4 H1577.0 M904.5,749.6 H1577.0 M904.5,736.7 H1577.0 M904.5,725.8 H1577.0 M904.5,716.4 H1577.0 M904.5,708.0 H1577.0 M904.5,977.2 H1577.0 M904.5,948.5 H1577.0 M904.5,928.2 H1577.0 M904.5,912.4 H1577.0 M904.5,899.5 H1577.0 M904.5,888.6 H1577.0 M904.5,879.2 H1577.0 M904.5,870.8 H1577.0" stroke="#c4c4c4" stroke-width="1.25" stroke-dasharray="5.5 5.6" fill="none"/>
<path d="M1072.6,537.7 V1026.2 M1240.6,537.7 V1026.2 M1408.6,537.7 V1026.2 M904.5,700.6 H1577.0 M904.5,863.4 H1577.0" stroke="#a6a6a6" stroke-width="1.5" fill="none"/>
<rect x="934" y="767" width="282" height="244.5" fill="#fff"/>
<line x1="904.5" y1="592.5" x2="1577.0" y2="918.3" stroke="#CE2229" stroke-width="2"/>
<path d="M1023.4,663.2 L1052.6,656.7 M1074.7,654.5 L1102.4,655.1 M1124.0,659.3 L1154.0,670.9 M1173.7,681.2 L1205.7,702.8 M1224.8,714.6 L1256.2,732.1 M1276.2,742.1 L1306.2,755.3 M1324.6,767.4 L1358.9,798.9 M1376.4,812.8 L1408.5,834.3 M1426.8,847.2 L1458.8,870.6 M1477.5,882.9 L1509.1,901.5" fill="none" stroke="#000" stroke-width="2.6"/>
<path d="M1367.1,795.6 V812 M1362.1,795.6 h10 M1362.1,812 h10" stroke="#000" stroke-width="2.2" fill="none"/>
<path d="M1467.8,852.4 V892.2 M1462.8,852.4 h10 M1462.8,892.2 h10" stroke="#000" stroke-width="2.2" fill="none"/>
<path d="M1518.8,868.4 V925 M1513.8,868.4 h10 M1513.8,925 h10" stroke="#000" stroke-width="2.2" fill="none"/>
<circle cx="1012.5" cy="665.6" r="8.6" fill="#000"/>
<circle cx="1063.5" cy="654.3" r="8.6" fill="#000"/>
<circle cx="1113.6" cy="655.3" r="8.6" fill="#000"/>
<circle cx="1164.4" cy="674.9" r="8.6" fill="#000"/>
<circle cx="1215" cy="709.1" r="8.6" fill="#000"/>
<circle cx="1266" cy="737.6" r="8.6" fill="#000"/>
<circle cx="1316.4" cy="759.8" r="8.6" fill="#000"/>
<circle cx="1367.1" cy="806.5" r="8.6" fill="#000"/>
<circle cx="1417.8" cy="840.6" r="8.6" fill="#000"/>
<circle cx="1467.8" cy="877.2" r="8.6" fill="#000"/>
<circle cx="1518.8" cy="907.2" r="8.6" fill="#000"/>
<path d="M955.2,1026.2 v-2.2 M955.2,537.7 v2.2 M984.8,1026.2 v-2.2 M984.8,537.7 v2.2 M1005.7,1026.2 v-2.2 M1005.7,537.7 v2.2 M1022.0,1026.2 v-2.2 M1022.0,537.7 v2.2 M1035.3,1026.2 v-2.2 M1035.3,537.7 v2.2 M1046.6,1026.2 v-2.2 M1046.6,537.7 v2.2 M1056.3,1026.2 v-2.2 M1056.3,537.7 v2.2 M1064.9,1026.2 v-2.2 M1064.9,537.7 v2.2 M1123.2,1026.2 v-2.2 M1123.2,537.7 v2.2 M1152.8,1026.2 v-2.2 M1152.8,537.7 v2.2 M1173.7,1026.2 v-2.2 M1173.7,537.7 v2.2 M1190.0,1026.2 v-2.2 M1190.0,537.7 v2.2 M1203.3,1026.2 v-2.2 M1203.3,537.7 v2.2 M1214.6,1026.2 v-2.2 M1214.6,537.7 v2.2 M1224.3,1026.2 v-2.2 M1224.3,537.7 v2.2 M1232.9,1026.2 v-2.2 M1232.9,537.7 v2.2 M1291.2,1026.2 v-2.2 M1291.2,537.7 v2.2 M1320.8,1026.2 v-2.2 M1320.8,537.7 v2.2 M1341.7,1026.2 v-2.2 M1341.7,537.7 v2.2 M1358.0,1026.2 v-2.2 M1358.0,537.7 v2.2 M1371.3,1026.2 v-2.2 M1371.3,537.7 v2.2 M1382.6,1026.2 v-2.2 M1382.6,537.7 v2.2 M1392.3,1026.2 v-2.2 M1392.3,537.7 v2.2 M1400.9,1026.2 v-2.2 M1400.9,537.7 v2.2 M1459.2,1026.2 v-2.2 M1459.2,537.7 v2.2 M1488.8,1026.2 v-2.2 M1488.8,537.7 v2.2 M1509.7,1026.2 v-2.2 M1509.7,537.7 v2.2 M1526.0,1026.2 v-2.2 M1526.0,537.7 v2.2 M1539.3,1026.2 v-2.2 M1539.3,537.7 v2.2 M1550.6,1026.2 v-2.2 M1550.6,537.7 v2.2 M1560.3,1026.2 v-2.2 M1560.3,537.7 v2.2 M1568.9,1026.2 v-2.2 M1568.9,537.7 v2.2 M1072.6,1026.2 v4.5 M1072.6,537.7 v5 M1240.6,1026.2 v4.5 M1240.6,537.7 v5 M1408.6,1026.2 v4.5 M1408.6,537.7 v5 M904.5,651.6 h2.2 M1577.0,651.6 h-2.2 M904.5,622.9 h2.2 M1577.0,622.9 h-2.2 M904.5,602.6 h2.2 M1577.0,602.6 h-2.2 M904.5,586.8 h2.2 M1577.0,586.8 h-2.2 M904.5,573.9 h2.2 M1577.0,573.9 h-2.2 M904.5,563.0 h2.2 M1577.0,563.0 h-2.2 M904.5,553.6 h2.2 M1577.0,553.6 h-2.2 M904.5,545.2 h2.2 M1577.0,545.2 h-2.2 M904.5,814.4 h2.2 M1577.0,814.4 h-2.2 M904.5,785.7 h2.2 M1577.0,785.7 h-2.2 M904.5,765.4 h2.2 M1577.0,765.4 h-2.2 M904.5,749.6 h2.2 M1577.0,749.6 h-2.2 M904.5,736.7 h2.2 M1577.0,736.7 h-2.2 M904.5,725.8 h2.2 M1577.0,725.8 h-2.2 M904.5,716.4 h2.2 M1577.0,716.4 h-2.2 M904.5,708.0 h2.2 M1577.0,708.0 h-2.2 M904.5,977.2 h2.2 M1577.0,977.2 h-2.2 M904.5,948.5 h2.2 M1577.0,948.5 h-2.2 M904.5,928.2 h2.2 M1577.0,928.2 h-2.2 M904.5,912.4 h2.2 M1577.0,912.4 h-2.2 M904.5,899.5 h2.2 M1577.0,899.5 h-2.2 M904.5,888.6 h2.2 M1577.0,888.6 h-2.2 M904.5,879.2 h2.2 M1577.0,879.2 h-2.2 M904.5,870.8 h2.2 M1577.0,870.8 h-2.2 M904.5,700.6 h5 M1577.0,700.6 h-5 M904.5,863.4 h5 M1577.0,863.4 h-5" stroke="#222" stroke-width="1.3" fill="none"/>
<rect x="904.5" y="537.7" width="672.5" height="488.5" fill="none" stroke="#3a3a3a" stroke-width="1.7"/>
<text x="840.7" y="547.2" font-family="'Liberation Serif','Times New Roman',serif" font-size="35.5" textLength="29.1" lengthAdjust="spacingAndGlyphs">10</text>
<text x="872.8" y="533.5" font-family="'Liberation Serif','Times New Roman',serif" font-size="24.3" textLength="26.1" lengthAdjust="spacingAndGlyphs">-15</text>
<text x="840.7" y="710.0" font-family="'Liberation Serif','Times New Roman',serif" font-size="35.5" textLength="29.1" lengthAdjust="spacingAndGlyphs">10</text>
<text x="872.8" y="696.3" font-family="'Liberation Serif','Times New Roman',serif" font-size="24.3" textLength="26.1" lengthAdjust="spacingAndGlyphs">-16</text>
<text x="840.7" y="872.8" font-family="'Liberation Serif','Times New Roman',serif" font-size="35.5" textLength="29.1" lengthAdjust="spacingAndGlyphs">10</text>
<text x="872.8" y="859.1" font-family="'Liberation Serif','Times New Roman',serif" font-size="24.3" textLength="26.1" lengthAdjust="spacingAndGlyphs">-17</text>
<text x="840.7" y="1035.6" font-family="'Liberation Serif','Times New Roman',serif" font-size="35.5" textLength="29.1" lengthAdjust="spacingAndGlyphs">10</text>
<text x="872.8" y="1021.9" font-family="'Liberation Serif','Times New Roman',serif" font-size="24.3" textLength="26.1" lengthAdjust="spacingAndGlyphs">-18</text>
<text x="885.1" y="1064.9" font-family="'Liberation Serif','Times New Roman',serif" font-size="35.5" textLength="29.1" lengthAdjust="spacingAndGlyphs">10</text>
<text x="917.3" y="1051" font-family="'Liberation Serif','Times New Roman',serif" font-size="24">0</text>
<text x="1053.1" y="1064.9" font-family="'Liberation Serif','Times New Roman',serif" font-size="35.5" textLength="29.1" lengthAdjust="spacingAndGlyphs">10</text>
<text x="1085.3" y="1051" font-family="'Liberation Serif','Times New Roman',serif" font-size="24">1</text>
<text x="1221.1" y="1064.9" font-family="'Liberation Serif','Times New Roman',serif" font-size="35.5" textLength="29.1" lengthAdjust="spacingAndGlyphs">10</text>
<text x="1253.3" y="1051" font-family="'Liberation Serif','Times New Roman',serif" font-size="24">2</text>
<text x="1389.1" y="1064.9" font-family="'Liberation Serif','Times New Roman',serif" font-size="35.5" textLength="29.1" lengthAdjust="spacingAndGlyphs">10</text>
<text x="1421.3" y="1051" font-family="'Liberation Serif','Times New Roman',serif" font-size="24">3</text>
<text x="1557.1" y="1064.9" font-family="'Liberation Serif','Times New Roman',serif" font-size="35.5" textLength="29.1" lengthAdjust="spacingAndGlyphs">10</text>
<text x="1589.3" y="1051" font-family="'Liberation Serif','Times New Roman',serif" font-size="24">4</text>
<text x="943.5" y="587.8" font-family="'Liberation Serif','Times New Roman',serif" font-size="46.5" textLength="33" lengthAdjust="spacingAndGlyphs" fill="#000">D</text>
<text transform="translate(818.4,803.2) rotate(-90)" font-family="'Liberation Serif','Times New Roman',serif" font-size="35.4" text-anchor="middle" textLength="486" lengthAdjust="spacingAndGlyphs">Total Allan deviation (fractional freq.)</text>
<text x="1246.7" y="1115.3" font-family="'Liberation Serif','Times New Roman',serif" font-size="38" text-anchor="middle" textLength="241" lengthAdjust="spacingAndGlyphs" fill="#000">Averaging time/s</text>
<rect x="1031.18" y="944.15" width="6.57" height="2.25" fill="#78B94A" stroke="#111" stroke-width="1"/>
<rect x="1037.99" y="940.36" width="6.57" height="6.04" fill="#78B94A" stroke="#111" stroke-width="1"/>
<rect x="1044.04" y="935.07" width="6.57" height="11.33" fill="#78B94A" stroke="#111" stroke-width="1"/>
<rect x="1050.54" y="925.23" width="6.57" height="21.17" fill="#78B94A" stroke="#111" stroke-width="1"/>
<rect x="1056.90" y="917.67" width="6.57" height="28.73" fill="#78B94A" stroke="#111" stroke-width="1"/>
<rect x="1063.71" y="888.17" width="6.57" height="58.23" fill="#78B94A" stroke="#111" stroke-width="1"/>
<rect x="1069.76" y="874.55" width="6.57" height="71.85" fill="#78B94A" stroke="#111" stroke-width="1"/>
<rect x="1076.57" y="851.41" width="6.57" height="94.99" fill="#78B94A" stroke="#111" stroke-width="1"/>
<rect x="1082.92" y="838.70" width="6.57" height="107.70" fill="#78B94A" stroke="#111" stroke-width="1"/>
<rect x="1089.43" y="803.45" width="6.57" height="142.95" fill="#78B94A" stroke="#111" stroke-width="1"/>
<rect x="1095.93" y="818.58" width="6.57" height="127.82" fill="#78B94A" stroke="#111" stroke-width="1"/>
<rect x="1102.59" y="791.35" width="6.57" height="155.05" fill="#78B94A" stroke="#111" stroke-width="1"/>
<rect x="1109.09" y="819.64" width="6.57" height="126.76" fill="#78B94A" stroke="#111" stroke-width="1"/>
<rect x="1115.90" y="839.76" width="6.57" height="106.64" fill="#78B94A" stroke="#111" stroke-width="1"/>
<rect x="1121.95" y="844.30" width="6.57" height="102.10" fill="#78B94A" stroke="#111" stroke-width="1"/>
<rect x="1128.76" y="878.34" width="6.57" height="68.06" fill="#78B94A" stroke="#111" stroke-width="1"/>
<rect x="1134.81" y="895.73" width="6.57" height="50.67" fill="#78B94A" stroke="#111" stroke-width="1"/>
<rect x="1141.62" y="906.32" width="6.57" height="40.08" fill="#78B94A" stroke="#111" stroke-width="1"/>
<rect x="1147.97" y="925.99" width="6.57" height="20.41" fill="#78B94A" stroke="#111" stroke-width="1"/>
<rect x="1154.48" y="932.80" width="6.57" height="13.60" fill="#78B94A" stroke="#111" stroke-width="1"/>
<rect x="1160.53" y="940.36" width="6.57" height="6.04" fill="#78B94A" stroke="#111" stroke-width="1"/>
<rect x="1167.34" y="943.39" width="6.57" height="3.01" fill="#78B94A" stroke="#111" stroke-width="1"/>
<polyline points="1010.8,945.9 1012.4,945.8 1013.9,945.7 1015.5,945.6 1017.0,945.4 1018.6,945.2 1020.1,945.0 1021.7,944.7 1023.3,944.4 1024.8,944.0 1026.4,943.6 1027.9,943.1 1029.5,942.6 1031.0,941.9 1032.6,941.2 1034.1,940.4 1035.7,939.5 1037.3,938.5 1038.8,937.3 1040.4,936.0 1041.9,934.6 1043.5,933.0 1045.0,931.2 1046.6,929.3 1048.2,927.2 1049.7,924.9 1051.3,922.4 1052.8,919.8 1054.4,916.9 1055.9,913.8 1057.5,910.5 1059.0,906.9 1060.6,903.2 1062.2,899.3 1063.7,895.2 1065.3,890.9 1066.8,886.5 1068.4,881.9 1069.9,877.2 1071.5,872.4 1073.1,867.6 1074.6,862.7 1076.2,857.7 1077.7,852.8 1079.3,847.9 1080.8,843.2 1082.4,838.5 1083.9,834.0 1085.5,829.7 1087.1,825.6 1088.6,821.8 1090.2,818.3 1091.7,815.1 1093.3,812.3 1094.8,809.9 1096.4,807.9 1098.0,806.3 1099.5,805.1 1101.1,804.4 1102.6,804.2 1104.2,804.4 1105.7,805.1 1107.3,806.3 1108.8,807.9 1110.4,809.9 1112.0,812.4 1113.5,815.2 1115.1,818.4 1116.6,821.9 1118.2,825.7 1119.7,829.8 1121.3,834.1 1122.9,838.6 1124.4,843.3 1126.0,848.1 1127.5,852.9 1129.1,857.9 1130.6,862.8 1132.2,867.7 1133.7,872.6 1135.3,877.4 1136.9,882.1 1138.4,886.6 1140.0,891.1 1141.5,895.3 1143.1,899.4 1144.6,903.3 1146.2,907.0 1147.8,910.6 1149.3,913.9 1150.9,916.9 1152.4,919.8 1154.0,922.5 1155.5,925.0 1157.1,927.3 1158.6,929.4 1160.2,931.3 1161.8,933.0 1163.3,934.6 1164.9,936.1 1166.4,937.3 1168.0,938.5 1169.5,939.5 1171.1,940.4 1172.7,941.2 1174.2,942.0 1175.8,942.6 1177.3,943.1 1178.9,943.6 1180.4,944.0 1182.0,944.4 1183.5,944.7 1185.1,945.0 1186.7,945.2 1188.2,945.4 1189.8,945.6 1191.3,945.7 1192.9,945.8 1194.4,945.9 1196.0,946.0" fill="none" stroke="#D3272C" stroke-width="3.2" stroke-linejoin="round"/>
<rect x="1010.8" y="783.0" width="185.20000000000005" height="163.39999999999998" fill="none" stroke="#222" stroke-width="1.6"/>
<path d="M1010.8,892.7 h6 M1196.0,892.7 h-6 M1010.8,839.0 h6 M1196.0,839.0 h-6 M1036.8,783.0 v6 M1036.8,946.4 v-6 M1102.6,783.0 v6 M1102.6,946.4 v-6 M1168.4,783.0 v6 M1168.4,946.4 v-6" stroke="#222" stroke-width="1.4" fill="none"/>
<text x="1000.6" y="845.5" font-family="'Liberation Sans',Arial,sans-serif" font-size="23.5" text-anchor="end" textLength="35.4" lengthAdjust="spacingAndGlyphs" fill="#000">200</text>
<text x="1003.6" y="953.5" font-family="'Liberation Sans',Arial,sans-serif" font-size="23.5" text-anchor="end" fill="#000">0</text>
<text x="1102.4" y="969" font-family="'Liberation Sans',Arial,sans-serif" font-size="23.5" text-anchor="middle" fill="#000">0</text>
<text transform="translate(954.3,869.2) rotate(-90)" font-family="'Liberation Serif','Times New Roman',serif" font-size="33.8" text-anchor="middle" textLength="145" lengthAdjust="spacingAndGlyphs">Occurrences</text>
<text x="1023.5" y="1003.7" font-family="'Liberation Serif','Times New Roman',serif" font-size="28.4" textLength="148.8" lengthAdjust="spacingAndGlyphs"><tspan font-style="italic">f</tspan><tspan font-size="17" dy="6.9">2</tspan><tspan dy="-6.9">(t) - </tspan><tspan font-style="italic">f</tspan><tspan font-size="17" dy="6.9">1</tspan><tspan dy="-6.9">(t)/Hz</tspan></text>
</svg></body></html>
